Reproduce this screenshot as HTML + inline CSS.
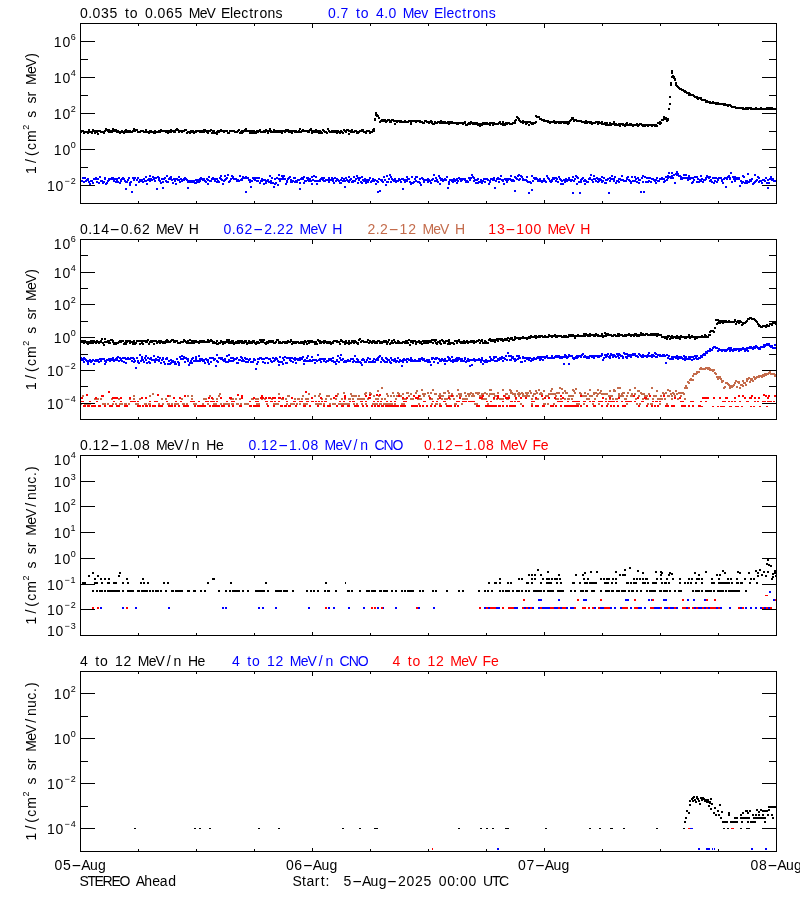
<!DOCTYPE html>
<html lang="en"><head><meta charset="utf-8"><title>STEREO Ahead particle fluxes</title>
<style>html,body{margin:0;padding:0;background:#fff;overflow:hidden}svg{display:block;will-change:transform}text{font-family:"Liberation Sans", sans-serif;font-size:14px;white-space:pre}</style></head><body>
<svg width="800" height="900" viewBox="0 0 800 900">
<rect width="800" height="900" fill="#fff"/>
<g shape-rendering="crispEdges">
<path fill="#000" d="M80 130h2v2h-2zM80 131h2v2h-2zM81 130h2v2h-2zM82 130h2v2h-2zM83 132h2v2h-2zM83 132h2v2h-2zM84 131h2v2h-2zM85 131h2v2h-2zM86 131h2v2h-2zM87 132h2v2h-2zM87 131h2v2h-2zM88 129h2v2h-2zM89 131h2v2h-2zM90 131h2v2h-2zM91 132h2v2h-2zM91 131h2v2h-2zM92 129h2v2h-2zM93 130h2v2h-2zM94 132h2v2h-2zM95 130h2v2h-2zM96 130h2v2h-2zM96 131h2v2h-2zM97 133h2v2h-2zM98 130h2v2h-2zM99 130h2v2h-2zM100 131h2v2h-2zM100 131h2v2h-2zM101 131h2v2h-2zM102 131h2v2h-2zM103 132h2v2h-2zM104 130h2v2h-2zM104 130h2v2h-2zM105 128h2v2h-2zM106 129h2v2h-2zM107 130h2v2h-2zM108 131h2v2h-2zM108 129h2v2h-2zM109 131h2v2h-2zM110 130h2v2h-2zM111 131h2v2h-2zM112 128h2v2h-2zM112 130h2v2h-2zM113 129h2v2h-2zM114 130h2v2h-2zM115 129h2v2h-2zM116 131h2v2h-2zM116 131h2v2h-2zM117 130h2v2h-2zM118 131h2v2h-2zM119 132h2v2h-2zM120 131h2v2h-2zM120 131h2v2h-2zM121 130h2v2h-2zM122 131h2v2h-2zM123 132h2v2h-2zM124 130h2v2h-2zM125 129h2v2h-2zM125 131h2v2h-2zM126 131h2v2h-2zM127 130h2v2h-2zM128 131h2v2h-2zM129 130h2v2h-2zM129 131h2v2h-2zM130 131h2v2h-2zM131 131h2v2h-2zM132 130h2v2h-2zM133 130h2v2h-2zM133 128h2v2h-2zM134 130h2v2h-2zM135 129h2v2h-2zM136 129h2v2h-2zM137 131h2v2h-2zM137 131h2v2h-2zM138 131h2v2h-2zM139 131h2v2h-2zM140 130h2v2h-2zM141 130h2v2h-2zM141 130h2v2h-2zM142 130h2v2h-2zM143 131h2v2h-2zM144 131h2v2h-2zM145 129h2v2h-2zM145 131h2v2h-2zM146 131h2v2h-2zM147 131h2v2h-2zM148 132h2v2h-2zM149 130h2v2h-2zM149 131h2v2h-2zM150 130h2v2h-2zM151 131h2v2h-2zM152 131h2v2h-2zM153 132h2v2h-2zM154 130h2v2h-2zM154 132h2v2h-2zM155 131h2v2h-2zM156 131h2v2h-2zM157 131h2v2h-2zM158 130h2v2h-2zM158 131h2v2h-2zM159 131h2v2h-2zM160 129h2v2h-2zM161 130h2v2h-2zM162 130h2v2h-2zM162 130h2v2h-2zM163 130h2v2h-2zM164 130h2v2h-2zM165 131h2v2h-2zM166 131h2v2h-2zM166 130h2v2h-2zM167 132h2v2h-2zM168 130h2v2h-2zM169 131h2v2h-2zM170 131h2v2h-2zM170 129h2v2h-2zM171 130h2v2h-2zM172 130h2v2h-2zM173 131h2v2h-2zM174 130h2v2h-2zM174 131h2v2h-2zM175 129h2v2h-2zM176 128h2v2h-2zM177 129h2v2h-2zM178 131h2v2h-2zM178 131h2v2h-2zM179 130h2v2h-2zM180 130h2v2h-2zM181 131h2v2h-2zM182 130h2v2h-2zM183 130h2v2h-2zM183 130h2v2h-2zM184 129h2v2h-2zM185 129h2v2h-2zM186 132h2v2h-2zM187 131h2v2h-2zM187 131h2v2h-2zM188 131h2v2h-2zM189 132h2v2h-2zM190 130h2v2h-2zM191 130h2v2h-2zM191 131h2v2h-2zM192 130h2v2h-2zM193 132h2v2h-2zM194 131h2v2h-2zM195 130h2v2h-2zM195 131h2v2h-2zM196 130h2v2h-2zM197 130h2v2h-2zM198 130h2v2h-2zM199 131h2v2h-2zM199 131h2v2h-2zM200 130h2v2h-2zM201 131h2v2h-2zM202 130h2v2h-2zM203 129h2v2h-2zM203 131h2v2h-2zM204 129h2v2h-2zM205 130h2v2h-2zM206 131h2v2h-2zM207 132h2v2h-2zM207 130h2v2h-2zM208 130h2v2h-2zM209 130h2v2h-2zM210 129h2v2h-2zM211 132h2v2h-2zM212 130h2v2h-2zM212 132h2v2h-2zM213 130h2v2h-2zM214 132h2v2h-2zM215 132h2v2h-2zM216 131h2v2h-2zM216 133h2v2h-2zM217 130h2v2h-2zM218 131h2v2h-2zM219 130h2v2h-2zM220 129h2v2h-2zM220 130h2v2h-2zM221 130h2v2h-2zM222 130h2v2h-2zM223 131h2v2h-2zM224 130h2v2h-2zM224 130h2v2h-2zM225 130h2v2h-2zM226 130h2v2h-2zM227 132h2v2h-2zM228 132h2v2h-2zM228 132h2v2h-2zM229 130h2v2h-2zM230 130h2v2h-2zM231 130h2v2h-2zM232 130h2v2h-2zM232 130h2v2h-2zM233 130h2v2h-2zM234 131h2v2h-2zM235 131h2v2h-2zM236 131h2v2h-2zM236 131h2v2h-2zM237 130h2v2h-2zM238 129h2v2h-2zM239 132h2v2h-2zM240 131h2v2h-2zM241 132h2v2h-2zM241 130h2v2h-2zM242 131h2v2h-2zM243 130h2v2h-2zM244 129h2v2h-2zM245 130h2v2h-2zM245 128h2v2h-2zM246 130h2v2h-2zM247 130h2v2h-2zM248 130h2v2h-2zM249 132h2v2h-2zM249 131h2v2h-2zM250 130h2v2h-2zM251 132h2v2h-2zM252 130h2v2h-2zM253 132h2v2h-2zM253 130h2v2h-2zM254 131h2v2h-2zM255 132h2v2h-2zM256 130h2v2h-2zM257 130h2v2h-2zM257 131h2v2h-2zM258 130h2v2h-2zM259 129h2v2h-2zM260 131h2v2h-2zM261 131h2v2h-2zM261 131h2v2h-2zM262 131h2v2h-2zM263 130h2v2h-2zM264 131h2v2h-2zM265 130h2v2h-2zM265 129h2v2h-2zM266 130h2v2h-2zM267 132h2v2h-2zM268 130h2v2h-2zM269 128h2v2h-2zM270 130h2v2h-2zM270 131h2v2h-2zM271 131h2v2h-2zM272 131h2v2h-2zM273 129h2v2h-2zM274 130h2v2h-2zM274 131h2v2h-2zM275 130h2v2h-2zM276 131h2v2h-2zM277 130h2v2h-2zM278 131h2v2h-2zM278 130h2v2h-2zM279 131h2v2h-2zM280 130h2v2h-2zM281 132h2v2h-2zM282 130h2v2h-2zM282 130h2v2h-2zM283 130h2v2h-2zM284 131h2v2h-2zM285 129h2v2h-2zM286 130h2v2h-2zM286 130h2v2h-2zM287 129h2v2h-2zM288 131h2v2h-2zM289 130h2v2h-2zM290 131h2v2h-2zM290 130h2v2h-2zM291 132h2v2h-2zM292 130h2v2h-2zM293 130h2v2h-2zM294 130h2v2h-2zM294 131h2v2h-2zM295 130h2v2h-2zM296 131h2v2h-2zM297 131h2v2h-2zM298 130h2v2h-2zM299 128h2v2h-2zM299 131h2v2h-2zM300 131h2v2h-2zM301 130h2v2h-2zM302 129h2v2h-2zM303 130h2v2h-2zM303 130h2v2h-2zM304 130h2v2h-2zM305 130h2v2h-2zM306 130h2v2h-2zM307 131h2v2h-2zM307 130h2v2h-2zM308 131h2v2h-2zM309 129h2v2h-2zM310 128h2v2h-2zM311 132h2v2h-2zM311 130h2v2h-2zM312 131h2v2h-2zM313 130h2v2h-2zM314 131h2v2h-2zM315 129h2v2h-2zM315 131h2v2h-2zM316 131h2v2h-2zM317 130h2v2h-2zM318 132h2v2h-2zM319 132h2v2h-2zM319 130h2v2h-2zM320 131h2v2h-2zM321 132h2v2h-2zM322 129h2v2h-2zM323 130h2v2h-2zM323 130h2v2h-2zM324 131h2v2h-2zM325 131h2v2h-2zM326 132h2v2h-2zM327 128h2v2h-2zM328 130h2v2h-2zM328 130h2v2h-2zM329 131h2v2h-2zM330 131h2v2h-2zM331 130h2v2h-2zM332 131h2v2h-2zM332 131h2v2h-2zM333 130h2v2h-2zM334 131h2v2h-2zM335 130h2v2h-2zM336 132h2v2h-2zM336 132h2v2h-2zM337 130h2v2h-2zM338 131h2v2h-2zM339 132h2v2h-2zM340 130h2v2h-2zM340 130h2v2h-2zM341 131h2v2h-2zM342 132h2v2h-2zM343 129h2v2h-2zM344 130h2v2h-2zM344 130h2v2h-2zM345 131h2v2h-2zM346 129h2v2h-2zM347 129h2v2h-2zM348 133h2v2h-2zM348 130h2v2h-2zM349 130h2v2h-2zM350 131h2v2h-2zM351 129h2v2h-2zM352 131h2v2h-2zM352 131h2v2h-2zM353 131h2v2h-2zM354 130h2v2h-2zM355 130h2v2h-2zM356 132h2v2h-2zM357 131h2v2h-2zM357 132h2v2h-2zM358 131h2v2h-2zM359 130h2v2h-2zM360 130h2v2h-2zM361 129h2v2h-2zM361 130h2v2h-2zM362 129h2v2h-2zM363 131h2v2h-2zM364 131h2v2h-2zM365 132h2v2h-2zM365 131h2v2h-2zM366 130h2v2h-2zM367 130h2v2h-2zM368 130h2v2h-2zM369 132h2v2h-2zM369 131h2v2h-2zM370 131h2v2h-2zM371 131h2v2h-2zM372 129h2v2h-2zM373 130h2v2h-2zM373 128h2v2h-2zM374 118h2v2h-2zM375 114h2v2h-2zM376 114h2v2h-2zM377 115h2v2h-2zM377 115h2v2h-2zM378 117h2v2h-2zM379 121h2v2h-2zM380 120h2v2h-2zM381 120h2v2h-2zM381 119h2v2h-2zM382 119h2v2h-2zM383 120h2v2h-2zM384 119h2v2h-2zM385 121h2v2h-2zM386 120h2v2h-2zM386 120h2v2h-2zM387 119h2v2h-2zM388 119h2v2h-2zM389 121h2v2h-2zM390 120h2v2h-2zM390 121h2v2h-2zM391 119h2v2h-2zM392 119h2v2h-2zM393 120h2v2h-2zM394 120h2v2h-2zM394 123h2v2h-2zM395 120h2v2h-2zM396 121h2v2h-2zM397 120h2v2h-2zM398 120h2v2h-2zM398 120h2v2h-2zM399 121h2v2h-2zM400 120h2v2h-2zM401 121h2v2h-2zM402 121h2v2h-2zM402 121h2v2h-2zM403 121h2v2h-2zM404 120h2v2h-2zM405 121h2v2h-2zM406 121h2v2h-2zM406 121h2v2h-2zM407 121h2v2h-2zM408 120h2v2h-2zM409 120h2v2h-2zM410 123h2v2h-2zM410 121h2v2h-2zM411 120h2v2h-2zM412 120h2v2h-2zM413 120h2v2h-2zM414 120h2v2h-2zM415 120h2v2h-2zM415 121h2v2h-2zM416 120h2v2h-2zM417 120h2v2h-2zM418 120h2v2h-2zM419 120h2v2h-2zM419 121h2v2h-2zM420 121h2v2h-2zM421 121h2v2h-2zM422 122h2v2h-2zM423 122h2v2h-2zM423 122h2v2h-2zM424 120h2v2h-2zM425 120h2v2h-2zM426 121h2v2h-2zM427 121h2v2h-2zM427 121h2v2h-2zM428 122h2v2h-2zM429 121h2v2h-2zM430 120h2v2h-2zM431 121h2v2h-2zM431 122h2v2h-2zM432 123h2v2h-2zM433 123h2v2h-2zM434 121h2v2h-2zM435 122h2v2h-2zM435 122h2v2h-2zM436 122h2v2h-2zM437 121h2v2h-2zM438 121h2v2h-2zM439 122h2v2h-2zM439 122h2v2h-2zM440 120h2v2h-2zM441 122h2v2h-2zM442 121h2v2h-2zM443 122h2v2h-2zM444 122h2v2h-2zM444 121h2v2h-2zM445 122h2v2h-2zM446 122h2v2h-2zM447 121h2v2h-2zM448 123h2v2h-2zM448 121h2v2h-2zM449 121h2v2h-2zM450 122h2v2h-2zM451 121h2v2h-2zM452 122h2v2h-2zM452 122h2v2h-2zM453 122h2v2h-2zM454 122h2v2h-2zM455 122h2v2h-2zM456 122h2v2h-2zM456 123h2v2h-2zM457 123h2v2h-2zM458 122h2v2h-2zM459 122h2v2h-2zM460 122h2v2h-2zM460 122h2v2h-2zM461 122h2v2h-2zM462 123h2v2h-2zM463 122h2v2h-2zM464 122h2v2h-2zM464 121h2v2h-2zM465 124h2v2h-2zM466 124h2v2h-2zM467 123h2v2h-2zM468 122h2v2h-2zM468 123h2v2h-2zM469 123h2v2h-2zM470 121h2v2h-2zM471 122h2v2h-2zM472 123h2v2h-2zM473 123h2v2h-2zM473 122h2v2h-2zM474 122h2v2h-2zM475 123h2v2h-2zM476 122h2v2h-2zM477 124h2v2h-2zM477 123h2v2h-2zM478 123h2v2h-2zM479 125h2v2h-2zM480 123h2v2h-2zM481 124h2v2h-2zM481 124h2v2h-2zM482 122h2v2h-2zM483 123h2v2h-2zM484 122h2v2h-2zM485 123h2v2h-2zM485 123h2v2h-2zM486 122h2v2h-2zM487 123h2v2h-2zM488 123h2v2h-2zM489 124h2v2h-2zM489 122h2v2h-2zM490 122h2v2h-2zM491 122h2v2h-2zM492 124h2v2h-2zM493 123h2v2h-2zM493 122h2v2h-2zM494 123h2v2h-2zM495 123h2v2h-2zM496 123h2v2h-2zM497 123h2v2h-2zM497 123h2v2h-2zM498 122h2v2h-2zM499 121h2v2h-2zM500 123h2v2h-2zM501 123h2v2h-2zM502 124h2v2h-2zM502 121h2v2h-2zM503 123h2v2h-2zM504 124h2v2h-2zM505 122h2v2h-2zM506 122h2v2h-2zM506 123h2v2h-2zM507 122h2v2h-2zM508 122h2v2h-2zM509 123h2v2h-2zM510 123h2v2h-2zM510 123h2v2h-2zM511 123h2v2h-2zM512 122h2v2h-2zM513 122h2v2h-2zM514 122h2v2h-2zM514 120h2v2h-2zM515 119h2v2h-2zM516 116h2v2h-2zM517 117h2v2h-2zM518 118h2v2h-2zM518 119h2v2h-2zM519 120h2v2h-2zM520 121h2v2h-2zM521 121h2v2h-2zM522 120h2v2h-2zM522 122h2v2h-2zM523 121h2v2h-2zM524 121h2v2h-2zM525 123h2v2h-2zM526 121h2v2h-2zM526 122h2v2h-2zM527 121h2v2h-2zM528 124h2v2h-2zM529 121h2v2h-2zM530 122h2v2h-2zM531 122h2v2h-2zM531 123h2v2h-2zM532 123h2v2h-2zM533 122h2v2h-2zM534 122h2v2h-2zM535 121h2v2h-2zM535 115h2v2h-2zM536 116h2v2h-2zM537 116h2v2h-2zM538 116h2v2h-2zM539 118h2v2h-2zM539 118h2v2h-2zM540 118h2v2h-2zM541 119h2v2h-2zM542 119h2v2h-2zM543 120h2v2h-2zM543 119h2v2h-2zM544 120h2v2h-2zM545 120h2v2h-2zM546 120h2v2h-2zM547 120h2v2h-2zM547 121h2v2h-2zM548 121h2v2h-2zM549 122h2v2h-2zM550 121h2v2h-2zM551 121h2v2h-2zM551 121h2v2h-2zM552 121h2v2h-2zM553 120h2v2h-2zM554 122h2v2h-2zM555 122h2v2h-2zM555 121h2v2h-2zM556 121h2v2h-2zM557 121h2v2h-2zM558 122h2v2h-2zM559 121h2v2h-2zM560 122h2v2h-2zM560 121h2v2h-2zM561 121h2v2h-2zM562 121h2v2h-2zM563 122h2v2h-2zM564 121h2v2h-2zM564 121h2v2h-2zM565 122h2v2h-2zM566 121h2v2h-2zM567 123h2v2h-2zM568 122h2v2h-2zM568 121h2v2h-2zM569 120h2v2h-2zM570 119h2v2h-2zM571 117h2v2h-2zM572 117h2v2h-2zM572 118h2v2h-2zM573 120h2v2h-2zM574 119h2v2h-2zM575 119h2v2h-2zM576 120h2v2h-2zM576 120h2v2h-2zM577 120h2v2h-2zM578 120h2v2h-2zM579 120h2v2h-2zM580 120h2v2h-2zM580 120h2v2h-2zM581 121h2v2h-2zM582 121h2v2h-2zM583 121h2v2h-2zM584 122h2v2h-2zM584 121h2v2h-2zM585 120h2v2h-2zM586 122h2v2h-2zM587 121h2v2h-2zM588 121h2v2h-2zM589 121h2v2h-2zM589 122h2v2h-2zM590 121h2v2h-2zM591 123h2v2h-2zM592 122h2v2h-2zM593 122h2v2h-2zM593 122h2v2h-2zM594 122h2v2h-2zM595 121h2v2h-2zM596 121h2v2h-2zM597 123h2v2h-2zM597 122h2v2h-2zM598 121h2v2h-2zM599 122h2v2h-2zM600 122h2v2h-2zM601 123h2v2h-2zM601 121h2v2h-2zM602 123h2v2h-2zM603 123h2v2h-2zM604 122h2v2h-2zM605 123h2v2h-2zM605 124h2v2h-2zM606 122h2v2h-2zM607 124h2v2h-2zM608 124h2v2h-2zM609 122h2v2h-2zM609 123h2v2h-2zM610 124h2v2h-2zM611 123h2v2h-2zM612 123h2v2h-2zM613 121h2v2h-2zM613 123h2v2h-2zM614 124h2v2h-2zM615 123h2v2h-2zM616 124h2v2h-2zM617 124h2v2h-2zM618 124h2v2h-2zM618 123h2v2h-2zM619 125h2v2h-2zM620 123h2v2h-2zM621 123h2v2h-2zM622 123h2v2h-2zM622 124h2v2h-2zM623 124h2v2h-2zM624 125h2v2h-2zM625 123h2v2h-2zM626 122h2v2h-2zM626 124h2v2h-2zM627 124h2v2h-2zM628 124h2v2h-2zM629 123h2v2h-2zM630 124h2v2h-2zM630 123h2v2h-2zM631 124h2v2h-2zM632 125h2v2h-2zM633 124h2v2h-2zM634 124h2v2h-2zM634 124h2v2h-2zM635 124h2v2h-2zM636 123h2v2h-2zM637 125h2v2h-2zM638 124h2v2h-2zM638 124h2v2h-2zM639 123h2v2h-2zM640 123h2v2h-2zM641 124h2v2h-2zM642 125h2v2h-2zM642 124h2v2h-2zM643 124h2v2h-2zM644 125h2v2h-2zM645 124h2v2h-2zM646 124h2v2h-2zM647 125h2v2h-2zM647 125h2v2h-2zM648 124h2v2h-2zM649 124h2v2h-2zM650 124h2v2h-2zM651 124h2v2h-2zM651 125h2v2h-2zM652 124h2v2h-2zM653 124h2v2h-2zM654 125h2v2h-2zM655 125h2v2h-2zM655 124h2v2h-2zM656 125h2v2h-2zM657 122h2v2h-2zM658 122h2v2h-2zM659 123h2v2h-2zM659 121h2v2h-2zM660 122h2v2h-2zM661 119h2v2h-2zM662 119h2v2h-2zM663 118h2v2h-2zM663 116h2v2h-2zM664 118h2v2h-2zM665 117h2v2h-2zM666 119h2v2h-2zM667 118h2v2h-2zM667 119h2v2h-2zM668 108h2v2h-2zM669 96h2v2h-2zM670 84h2v2h-2zM671 76h2v2h-2zM671 70h2v2h-2zM672 75h2v2h-2zM673 77h2v2h-2zM674 79h2v2h-2zM675 82h2v2h-2zM676 85h2v2h-2zM676 85h2v2h-2zM677 86h2v2h-2zM678 87h2v2h-2zM679 88h2v2h-2zM680 88h2v2h-2zM680 88h2v2h-2zM681 89h2v2h-2zM682 89h2v2h-2zM683 90h2v2h-2zM684 90h2v2h-2zM684 91h2v2h-2zM685 91h2v2h-2zM686 92h2v2h-2zM687 92h2v2h-2zM688 92h2v2h-2zM688 94h2v2h-2zM689 93h2v2h-2zM690 94h2v2h-2zM691 94h2v2h-2zM692 94h2v2h-2zM692 94h2v2h-2zM693 95h2v2h-2zM694 96h2v2h-2zM695 96h2v2h-2zM696 96h2v2h-2zM696 97h2v2h-2zM697 98h2v2h-2zM698 97h2v2h-2zM699 97h2v2h-2zM700 97h2v2h-2zM700 98h2v2h-2zM701 99h2v2h-2zM702 99h2v2h-2zM703 99h2v2h-2zM704 99h2v2h-2zM705 100h2v2h-2zM705 101h2v2h-2zM706 100h2v2h-2zM707 101h2v2h-2zM708 101h2v2h-2zM709 102h2v2h-2zM709 101h2v2h-2zM710 102h2v2h-2zM711 102h2v2h-2zM712 101h2v2h-2zM713 102h2v2h-2zM713 102h2v2h-2zM714 102h2v2h-2zM715 103h2v2h-2zM716 102h2v2h-2zM717 102h2v2h-2zM717 103h2v2h-2zM718 103h2v2h-2zM719 103h2v2h-2zM720 103h2v2h-2zM721 103h2v2h-2zM721 103h2v2h-2zM722 103h2v2h-2zM723 104h2v2h-2zM724 103h2v2h-2zM725 104h2v2h-2zM725 104h2v2h-2zM726 104h2v2h-2zM727 105h2v2h-2zM728 104h2v2h-2zM729 104h2v2h-2zM729 104h2v2h-2zM730 105h2v2h-2zM731 106h2v2h-2zM732 106h2v2h-2zM733 106h2v2h-2zM734 106h2v2h-2zM734 106h2v2h-2zM735 107h2v2h-2zM736 107h2v2h-2zM737 107h2v2h-2zM738 107h2v2h-2zM738 107h2v2h-2zM739 107h2v2h-2zM740 107h2v2h-2zM741 107h2v2h-2zM742 107h2v2h-2zM742 108h2v2h-2zM743 108h2v2h-2zM744 108h2v2h-2zM745 107h2v2h-2zM746 107h2v2h-2zM746 108h2v2h-2zM747 108h2v2h-2zM748 107h2v2h-2zM749 107h2v2h-2zM750 107h2v2h-2zM750 108h2v2h-2zM751 108h2v2h-2zM752 108h2v2h-2zM753 108h2v2h-2zM754 108h2v2h-2zM754 108h2v2h-2zM755 107h2v2h-2zM756 108h2v2h-2zM757 108h2v2h-2zM758 108h2v2h-2zM758 108h2v2h-2zM759 108h2v2h-2zM760 107h2v2h-2zM761 108h2v2h-2zM762 108h2v2h-2zM763 108h2v2h-2zM763 108h2v2h-2zM764 108h2v2h-2zM765 108h2v2h-2zM766 107h2v2h-2zM767 107h2v2h-2zM767 108h2v2h-2zM768 108h2v2h-2zM769 107h2v2h-2zM770 108h2v2h-2zM771 107h2v2h-2zM771 108h2v2h-2zM772 108h2v2h-2zM773 108h2v2h-2zM774 108h2v2h-2zM775 108h2v2h-2zM375 112h2v2h-2zM376 115h2v2h-2zM374 119h2v2h-2zM669 103h2v2h-2zM670 82h2v2h-2zM671 70h2v2h-2zM671 72h2v2h-2zM673 76h2v2h-2zM674 78h2v2h-2zM667 119h2v2h-2zM666 120h2v2h-2zM675 84h2v2h-2z"/>
<path fill="#0000ff" d="M80 180h2v2h-2zM80 180h2v2h-2zM81 180h2v2h-2zM82 177h2v2h-2zM83 181h2v2h-2zM83 177h2v2h-2zM84 177h2v2h-2zM85 180h2v2h-2zM86 179h2v2h-2zM87 179h2v2h-2zM87 178h2v2h-2zM88 181h2v2h-2zM89 183h2v2h-2zM90 180h2v2h-2zM91 180h2v2h-2zM91 180h2v2h-2zM92 182h2v2h-2zM93 178h2v2h-2zM94 178h2v2h-2zM95 177h2v2h-2zM96 178h2v2h-2zM96 181h2v2h-2zM97 178h2v2h-2zM98 182h2v2h-2zM99 176h2v2h-2zM100 180h2v2h-2zM100 180h2v2h-2zM101 180h2v2h-2zM102 182h2v2h-2zM103 181h2v2h-2zM104 178h2v2h-2zM104 177h2v2h-2zM105 183h2v2h-2zM106 182h2v2h-2zM107 180h2v2h-2zM108 179h2v2h-2zM108 178h2v2h-2zM109 178h2v2h-2zM110 178h2v2h-2zM111 177h2v2h-2zM112 177h2v2h-2zM112 178h2v2h-2zM113 180h2v2h-2zM114 178h2v2h-2zM115 181h2v2h-2zM116 180h2v2h-2zM116 178h2v2h-2zM117 181h2v2h-2zM118 177h2v2h-2zM119 182h2v2h-2zM120 179h2v2h-2zM120 180h2v2h-2zM121 178h2v2h-2zM122 177h2v2h-2zM123 178h2v2h-2zM124 180h2v2h-2zM125 188h2v2h-2zM125 181h2v2h-2zM126 181h2v2h-2zM127 179h2v2h-2zM128 177h2v2h-2zM129 184h2v2h-2zM129 182h2v2h-2zM130 181h2v2h-2zM131 191h2v2h-2zM132 177h2v2h-2zM133 177h2v2h-2zM133 179h2v2h-2zM134 177h2v2h-2zM135 184h2v2h-2zM136 179h2v2h-2zM137 177h2v2h-2zM137 177h2v2h-2zM138 181h2v2h-2zM139 179h2v2h-2zM140 180h2v2h-2zM141 180h2v2h-2zM141 179h2v2h-2zM142 181h2v2h-2zM143 178h2v2h-2zM144 180h2v2h-2zM145 176h2v2h-2zM145 180h2v2h-2zM146 183h2v2h-2zM147 179h2v2h-2zM148 178h2v2h-2zM149 180h2v2h-2zM149 175h2v2h-2zM150 178h2v2h-2zM151 179h2v2h-2zM152 176h2v2h-2zM153 178h2v2h-2zM154 177h2v2h-2zM154 180h2v2h-2zM155 177h2v2h-2zM156 188h2v2h-2zM157 176h2v2h-2zM158 177h2v2h-2zM158 179h2v2h-2zM159 180h2v2h-2zM160 182h2v2h-2zM161 178h2v2h-2zM162 181h2v2h-2zM162 187h2v2h-2zM163 178h2v2h-2zM164 177h2v2h-2zM165 180h2v2h-2zM166 181h2v2h-2zM166 175h2v2h-2zM167 181h2v2h-2zM168 178h2v2h-2zM169 177h2v2h-2zM170 176h2v2h-2zM170 178h2v2h-2zM171 179h2v2h-2zM172 182h2v2h-2zM173 178h2v2h-2zM174 180h2v2h-2zM174 178h2v2h-2zM175 183h2v2h-2zM176 178h2v2h-2zM177 179h2v2h-2zM178 176h2v2h-2zM178 179h2v2h-2zM179 181h2v2h-2zM180 178h2v2h-2zM181 180h2v2h-2zM182 179h2v2h-2zM183 178h2v2h-2zM183 179h2v2h-2zM184 177h2v2h-2zM185 178h2v2h-2zM186 179h2v2h-2zM187 181h2v2h-2zM187 187h2v2h-2zM188 180h2v2h-2zM189 181h2v2h-2zM190 180h2v2h-2zM191 180h2v2h-2zM191 181h2v2h-2zM192 181h2v2h-2zM193 180h2v2h-2zM194 182h2v2h-2zM195 182h2v2h-2zM195 179h2v2h-2zM196 181h2v2h-2zM197 179h2v2h-2zM198 181h2v2h-2zM199 178h2v2h-2zM199 180h2v2h-2zM200 177h2v2h-2zM201 178h2v2h-2zM202 179h2v2h-2zM203 178h2v2h-2zM203 179h2v2h-2zM204 180h2v2h-2zM205 181h2v2h-2zM206 178h2v2h-2zM207 183h2v2h-2zM207 179h2v2h-2zM208 176h2v2h-2zM209 180h2v2h-2zM210 180h2v2h-2zM211 178h2v2h-2zM212 177h2v2h-2zM212 178h2v2h-2zM213 178h2v2h-2zM214 180h2v2h-2zM215 178h2v2h-2zM216 181h2v2h-2zM216 178h2v2h-2zM217 180h2v2h-2zM218 181h2v2h-2zM219 177h2v2h-2zM220 178h2v2h-2zM220 175h2v2h-2zM221 179h2v2h-2zM222 183h2v2h-2zM223 180h2v2h-2zM224 175h2v2h-2zM224 179h2v2h-2zM225 178h2v2h-2zM226 177h2v2h-2zM227 174h2v2h-2zM228 181h2v2h-2zM228 181h2v2h-2zM229 180h2v2h-2zM230 178h2v2h-2zM231 175h2v2h-2zM232 176h2v2h-2zM232 177h2v2h-2zM233 178h2v2h-2zM234 178h2v2h-2zM235 178h2v2h-2zM236 180h2v2h-2zM236 180h2v2h-2zM237 179h2v2h-2zM238 180h2v2h-2zM239 175h2v2h-2zM240 179h2v2h-2zM241 179h2v2h-2zM241 178h2v2h-2zM242 176h2v2h-2zM243 177h2v2h-2zM244 177h2v2h-2zM245 176h2v2h-2zM245 191h2v2h-2zM246 177h2v2h-2zM247 177h2v2h-2zM248 179h2v2h-2zM249 179h2v2h-2zM249 181h2v2h-2zM250 186h2v2h-2zM251 180h2v2h-2zM252 177h2v2h-2zM253 178h2v2h-2zM253 177h2v2h-2zM254 179h2v2h-2zM255 177h2v2h-2zM256 180h2v2h-2zM257 180h2v2h-2zM257 177h2v2h-2zM258 177h2v2h-2zM259 182h2v2h-2zM260 180h2v2h-2zM261 180h2v2h-2zM261 178h2v2h-2zM262 179h2v2h-2zM263 183h2v2h-2zM264 179h2v2h-2zM265 180h2v2h-2zM265 182h2v2h-2zM266 180h2v2h-2zM267 179h2v2h-2zM268 181h2v2h-2zM269 175h2v2h-2zM270 182h2v2h-2zM270 180h2v2h-2zM271 177h2v2h-2zM272 182h2v2h-2zM273 186h2v2h-2zM274 183h2v2h-2zM274 178h2v2h-2zM275 182h2v2h-2zM276 177h2v2h-2zM277 184h2v2h-2zM278 178h2v2h-2zM278 174h2v2h-2zM279 180h2v2h-2zM280 178h2v2h-2zM281 175h2v2h-2zM282 177h2v2h-2zM282 178h2v2h-2zM283 175h2v2h-2zM284 178h2v2h-2zM285 183h2v2h-2zM286 181h2v2h-2zM286 180h2v2h-2zM287 178h2v2h-2zM288 177h2v2h-2zM289 176h2v2h-2zM290 181h2v2h-2zM290 179h2v2h-2zM291 181h2v2h-2zM292 180h2v2h-2zM293 177h2v2h-2zM294 177h2v2h-2zM294 181h2v2h-2zM295 180h2v2h-2zM296 181h2v2h-2zM297 179h2v2h-2zM298 179h2v2h-2zM299 182h2v2h-2zM299 188h2v2h-2zM300 178h2v2h-2zM301 177h2v2h-2zM302 178h2v2h-2zM303 176h2v2h-2zM303 182h2v2h-2zM304 180h2v2h-2zM305 180h2v2h-2zM306 177h2v2h-2zM307 179h2v2h-2zM307 177h2v2h-2zM308 180h2v2h-2zM309 178h2v2h-2zM310 180h2v2h-2zM311 183h2v2h-2zM311 176h2v2h-2zM312 179h2v2h-2zM313 175h2v2h-2zM314 180h2v2h-2zM315 180h2v2h-2zM315 176h2v2h-2zM316 183h2v2h-2zM317 180h2v2h-2zM318 180h2v2h-2zM319 180h2v2h-2zM319 179h2v2h-2zM320 178h2v2h-2zM321 177h2v2h-2zM322 179h2v2h-2zM323 177h2v2h-2zM323 180h2v2h-2zM324 180h2v2h-2zM325 179h2v2h-2zM326 179h2v2h-2zM327 179h2v2h-2zM328 181h2v2h-2zM328 177h2v2h-2zM329 179h2v2h-2zM330 179h2v2h-2zM331 177h2v2h-2zM332 180h2v2h-2zM332 178h2v2h-2zM333 182h2v2h-2zM334 177h2v2h-2zM335 180h2v2h-2zM336 178h2v2h-2zM336 178h2v2h-2zM337 179h2v2h-2zM338 180h2v2h-2zM339 182h2v2h-2zM340 179h2v2h-2zM340 182h2v2h-2zM341 177h2v2h-2zM342 180h2v2h-2zM343 178h2v2h-2zM344 186h2v2h-2zM344 180h2v2h-2zM345 177h2v2h-2zM346 179h2v2h-2zM347 180h2v2h-2zM348 181h2v2h-2zM348 176h2v2h-2zM349 179h2v2h-2zM350 178h2v2h-2zM351 181h2v2h-2zM352 180h2v2h-2zM352 181h2v2h-2zM353 176h2v2h-2zM354 180h2v2h-2zM355 178h2v2h-2zM356 175h2v2h-2zM357 182h2v2h-2zM357 177h2v2h-2zM358 179h2v2h-2zM359 177h2v2h-2zM360 181h2v2h-2zM361 176h2v2h-2zM361 182h2v2h-2zM362 179h2v2h-2zM363 180h2v2h-2zM364 178h2v2h-2zM365 182h2v2h-2zM365 180h2v2h-2zM366 179h2v2h-2zM367 181h2v2h-2zM368 179h2v2h-2zM369 177h2v2h-2zM369 177h2v2h-2zM370 181h2v2h-2zM371 180h2v2h-2zM372 178h2v2h-2zM373 180h2v2h-2zM373 179h2v2h-2zM374 179h2v2h-2zM375 183h2v2h-2zM376 180h2v2h-2zM377 191h2v2h-2zM377 181h2v2h-2zM378 178h2v2h-2zM379 190h2v2h-2zM380 179h2v2h-2zM381 180h2v2h-2zM381 179h2v2h-2zM382 181h2v2h-2zM383 176h2v2h-2zM384 179h2v2h-2zM385 184h2v2h-2zM386 181h2v2h-2zM386 175h2v2h-2zM387 181h2v2h-2zM388 178h2v2h-2zM389 174h2v2h-2zM390 181h2v2h-2zM390 176h2v2h-2zM391 178h2v2h-2zM392 179h2v2h-2zM393 180h2v2h-2zM394 180h2v2h-2zM394 178h2v2h-2zM395 181h2v2h-2zM396 180h2v2h-2zM397 180h2v2h-2zM398 178h2v2h-2zM398 178h2v2h-2zM399 179h2v2h-2zM400 181h2v2h-2zM401 178h2v2h-2zM402 188h2v2h-2zM402 178h2v2h-2zM403 179h2v2h-2zM404 181h2v2h-2zM405 179h2v2h-2zM406 180h2v2h-2zM406 176h2v2h-2zM407 178h2v2h-2zM408 178h2v2h-2zM409 181h2v2h-2zM410 183h2v2h-2zM410 182h2v2h-2zM411 176h2v2h-2zM412 182h2v2h-2zM413 181h2v2h-2zM414 178h2v2h-2zM415 176h2v2h-2zM415 180h2v2h-2zM416 176h2v2h-2zM417 181h2v2h-2zM418 181h2v2h-2zM419 178h2v2h-2zM419 182h2v2h-2zM420 184h2v2h-2zM421 177h2v2h-2zM422 178h2v2h-2zM423 179h2v2h-2zM423 181h2v2h-2zM424 179h2v2h-2zM425 179h2v2h-2zM426 179h2v2h-2zM427 181h2v2h-2zM427 178h2v2h-2zM428 179h2v2h-2zM429 180h2v2h-2zM430 182h2v2h-2zM431 179h2v2h-2zM431 179h2v2h-2zM432 178h2v2h-2zM433 174h2v2h-2zM434 180h2v2h-2zM435 180h2v2h-2zM435 177h2v2h-2zM436 179h2v2h-2zM437 181h2v2h-2zM438 175h2v2h-2zM439 183h2v2h-2zM439 177h2v2h-2zM440 179h2v2h-2zM441 178h2v2h-2zM442 180h2v2h-2zM443 179h2v2h-2zM444 179h2v2h-2zM444 178h2v2h-2zM445 179h2v2h-2zM446 176h2v2h-2zM447 187h2v2h-2zM448 183h2v2h-2zM448 181h2v2h-2zM449 179h2v2h-2zM450 179h2v2h-2zM451 180h2v2h-2zM452 179h2v2h-2zM452 181h2v2h-2zM453 178h2v2h-2zM454 180h2v2h-2zM455 179h2v2h-2zM456 178h2v2h-2zM456 182h2v2h-2zM457 180h2v2h-2zM458 177h2v2h-2zM459 178h2v2h-2zM460 178h2v2h-2zM460 180h2v2h-2zM461 179h2v2h-2zM462 178h2v2h-2zM463 178h2v2h-2zM464 179h2v2h-2zM464 178h2v2h-2zM465 181h2v2h-2zM466 180h2v2h-2zM467 181h2v2h-2zM468 177h2v2h-2zM468 177h2v2h-2zM469 179h2v2h-2zM470 177h2v2h-2zM471 174h2v2h-2zM472 176h2v2h-2zM473 177h2v2h-2zM473 180h2v2h-2zM474 179h2v2h-2zM475 182h2v2h-2zM476 179h2v2h-2zM477 182h2v2h-2zM477 178h2v2h-2zM478 181h2v2h-2zM479 181h2v2h-2zM480 179h2v2h-2zM481 182h2v2h-2zM481 180h2v2h-2zM482 180h2v2h-2zM483 178h2v2h-2zM484 181h2v2h-2zM485 178h2v2h-2zM485 178h2v2h-2zM486 178h2v2h-2zM487 179h2v2h-2zM488 183h2v2h-2zM489 180h2v2h-2zM489 181h2v2h-2zM490 178h2v2h-2zM491 178h2v2h-2zM492 179h2v2h-2zM493 177h2v2h-2zM493 179h2v2h-2zM494 187h2v2h-2zM495 180h2v2h-2zM496 178h2v2h-2zM497 177h2v2h-2zM497 178h2v2h-2zM498 181h2v2h-2zM499 178h2v2h-2zM500 175h2v2h-2zM501 179h2v2h-2zM502 179h2v2h-2zM502 180h2v2h-2zM503 183h2v2h-2zM504 178h2v2h-2zM505 179h2v2h-2zM506 178h2v2h-2zM506 181h2v2h-2zM507 179h2v2h-2zM508 178h2v2h-2zM509 178h2v2h-2zM510 175h2v2h-2zM510 179h2v2h-2zM511 180h2v2h-2zM512 179h2v2h-2zM513 180h2v2h-2zM514 190h2v2h-2zM514 176h2v2h-2zM515 177h2v2h-2zM516 178h2v2h-2zM517 175h2v2h-2zM518 179h2v2h-2zM518 174h2v2h-2zM519 178h2v2h-2zM520 175h2v2h-2zM521 176h2v2h-2zM522 179h2v2h-2zM522 178h2v2h-2zM523 179h2v2h-2zM524 179h2v2h-2zM525 179h2v2h-2zM526 176h2v2h-2zM526 180h2v2h-2zM527 181h2v2h-2zM528 192h2v2h-2zM529 181h2v2h-2zM530 182h2v2h-2zM531 175h2v2h-2zM531 189h2v2h-2zM532 180h2v2h-2zM533 177h2v2h-2zM534 178h2v2h-2zM535 177h2v2h-2zM535 177h2v2h-2zM536 178h2v2h-2zM537 180h2v2h-2zM538 179h2v2h-2zM539 178h2v2h-2zM539 180h2v2h-2zM540 180h2v2h-2zM541 181h2v2h-2zM542 180h2v2h-2zM543 178h2v2h-2zM543 178h2v2h-2zM544 180h2v2h-2zM545 181h2v2h-2zM546 175h2v2h-2zM547 177h2v2h-2zM547 177h2v2h-2zM548 178h2v2h-2zM549 180h2v2h-2zM550 181h2v2h-2zM551 180h2v2h-2zM551 179h2v2h-2zM552 177h2v2h-2zM553 178h2v2h-2zM554 177h2v2h-2zM555 177h2v2h-2zM555 180h2v2h-2zM556 178h2v2h-2zM557 181h2v2h-2zM558 176h2v2h-2zM559 178h2v2h-2zM560 183h2v2h-2zM560 179h2v2h-2zM561 180h2v2h-2zM562 183h2v2h-2zM563 179h2v2h-2zM564 179h2v2h-2zM564 181h2v2h-2zM565 178h2v2h-2zM566 180h2v2h-2zM567 179h2v2h-2zM568 177h2v2h-2zM568 177h2v2h-2zM569 179h2v2h-2zM570 180h2v2h-2zM571 179h2v2h-2zM572 176h2v2h-2zM572 192h2v2h-2zM573 180h2v2h-2zM574 178h2v2h-2zM575 175h2v2h-2zM576 176h2v2h-2zM576 183h2v2h-2zM577 177h2v2h-2zM578 181h2v2h-2zM579 192h2v2h-2zM580 179h2v2h-2zM580 181h2v2h-2zM581 178h2v2h-2zM582 177h2v2h-2zM583 180h2v2h-2zM584 183h2v2h-2zM584 179h2v2h-2zM585 180h2v2h-2zM586 181h2v2h-2zM587 181h2v2h-2zM588 178h2v2h-2zM589 178h2v2h-2zM589 177h2v2h-2zM590 174h2v2h-2zM591 179h2v2h-2zM592 181h2v2h-2zM593 175h2v2h-2zM593 178h2v2h-2zM594 178h2v2h-2zM595 180h2v2h-2zM596 177h2v2h-2zM597 181h2v2h-2zM597 178h2v2h-2zM598 180h2v2h-2zM599 178h2v2h-2zM600 179h2v2h-2zM601 181h2v2h-2zM601 176h2v2h-2zM602 180h2v2h-2zM603 177h2v2h-2zM604 182h2v2h-2zM605 182h2v2h-2zM605 179h2v2h-2zM606 179h2v2h-2zM607 178h2v2h-2zM608 192h2v2h-2zM609 180h2v2h-2zM609 177h2v2h-2zM610 178h2v2h-2zM611 175h2v2h-2zM612 178h2v2h-2zM613 178h2v2h-2zM613 180h2v2h-2zM614 176h2v2h-2zM615 182h2v2h-2zM616 180h2v2h-2zM617 180h2v2h-2zM618 181h2v2h-2zM618 178h2v2h-2zM619 178h2v2h-2zM620 179h2v2h-2zM621 175h2v2h-2zM622 179h2v2h-2zM622 179h2v2h-2zM623 180h2v2h-2zM624 180h2v2h-2zM625 180h2v2h-2zM626 178h2v2h-2zM626 177h2v2h-2zM627 176h2v2h-2zM628 179h2v2h-2zM629 180h2v2h-2zM630 181h2v2h-2zM630 182h2v2h-2zM631 176h2v2h-2zM632 180h2v2h-2zM633 180h2v2h-2zM634 176h2v2h-2zM634 180h2v2h-2zM635 178h2v2h-2zM636 181h2v2h-2zM637 177h2v2h-2zM638 179h2v2h-2zM638 182h2v2h-2zM639 179h2v2h-2zM640 191h2v2h-2zM641 177h2v2h-2zM642 181h2v2h-2zM642 175h2v2h-2zM643 191h2v2h-2zM644 176h2v2h-2zM645 181h2v2h-2zM646 177h2v2h-2zM647 177h2v2h-2zM647 181h2v2h-2zM648 180h2v2h-2zM649 177h2v2h-2zM650 181h2v2h-2zM651 178h2v2h-2zM651 178h2v2h-2zM652 178h2v2h-2zM653 179h2v2h-2zM654 180h2v2h-2zM655 179h2v2h-2zM655 182h2v2h-2zM656 177h2v2h-2zM657 180h2v2h-2zM658 180h2v2h-2zM659 178h2v2h-2zM659 178h2v2h-2zM660 178h2v2h-2zM661 177h2v2h-2zM662 178h2v2h-2zM663 181h2v2h-2zM663 178h2v2h-2zM664 180h2v2h-2zM665 176h2v2h-2zM666 179h2v2h-2zM667 175h2v2h-2zM667 177h2v2h-2zM668 172h2v2h-2zM669 176h2v2h-2zM670 177h2v2h-2zM671 175h2v2h-2zM671 172h2v2h-2zM672 177h2v2h-2zM673 174h2v2h-2zM674 182h2v2h-2zM675 173h2v2h-2zM676 171h2v2h-2zM676 174h2v2h-2zM677 173h2v2h-2zM678 175h2v2h-2zM679 175h2v2h-2zM680 178h2v2h-2zM680 176h2v2h-2zM681 178h2v2h-2zM682 177h2v2h-2zM683 174h2v2h-2zM684 174h2v2h-2zM684 177h2v2h-2zM685 174h2v2h-2zM686 177h2v2h-2zM687 179h2v2h-2zM688 177h2v2h-2zM688 175h2v2h-2zM689 178h2v2h-2zM690 177h2v2h-2zM691 182h2v2h-2zM692 177h2v2h-2zM692 181h2v2h-2zM693 179h2v2h-2zM694 176h2v2h-2zM695 176h2v2h-2zM696 176h2v2h-2zM696 181h2v2h-2zM697 178h2v2h-2zM698 181h2v2h-2zM699 179h2v2h-2zM700 175h2v2h-2zM700 180h2v2h-2zM701 178h2v2h-2zM702 181h2v2h-2zM703 179h2v2h-2zM704 179h2v2h-2zM705 177h2v2h-2zM705 178h2v2h-2zM706 175h2v2h-2zM707 176h2v2h-2zM708 177h2v2h-2zM709 176h2v2h-2zM709 180h2v2h-2zM710 179h2v2h-2zM711 181h2v2h-2zM712 177h2v2h-2zM713 177h2v2h-2zM713 182h2v2h-2zM714 180h2v2h-2zM715 177h2v2h-2zM716 181h2v2h-2zM717 179h2v2h-2zM717 178h2v2h-2zM718 177h2v2h-2zM719 177h2v2h-2zM720 177h2v2h-2zM721 179h2v2h-2zM721 180h2v2h-2zM722 182h2v2h-2zM723 178h2v2h-2zM724 177h2v2h-2zM725 177h2v2h-2zM725 186h2v2h-2zM726 178h2v2h-2zM727 176h2v2h-2zM728 175h2v2h-2zM729 177h2v2h-2zM729 178h2v2h-2zM730 172h2v2h-2zM731 181h2v2h-2zM732 176h2v2h-2zM733 178h2v2h-2zM734 180h2v2h-2zM734 176h2v2h-2zM735 178h2v2h-2zM736 177h2v2h-2zM737 178h2v2h-2zM738 177h2v2h-2zM738 178h2v2h-2zM739 185h2v2h-2zM740 180h2v2h-2zM741 182h2v2h-2zM742 175h2v2h-2zM742 181h2v2h-2zM743 176h2v2h-2zM744 182h2v2h-2zM745 180h2v2h-2zM746 180h2v2h-2zM746 182h2v2h-2zM747 173h2v2h-2zM748 181h2v2h-2zM749 179h2v2h-2zM750 179h2v2h-2zM750 180h2v2h-2zM751 178h2v2h-2zM752 183h2v2h-2zM753 182h2v2h-2zM754 174h2v2h-2zM754 181h2v2h-2zM755 180h2v2h-2zM756 179h2v2h-2zM757 176h2v2h-2zM758 181h2v2h-2zM758 177h2v2h-2zM759 180h2v2h-2zM760 180h2v2h-2zM761 182h2v2h-2zM762 179h2v2h-2zM763 179h2v2h-2zM763 179h2v2h-2zM764 180h2v2h-2zM765 177h2v2h-2zM766 182h2v2h-2zM767 187h2v2h-2zM767 179h2v2h-2zM768 182h2v2h-2zM769 178h2v2h-2zM770 176h2v2h-2zM771 179h2v2h-2zM771 178h2v2h-2zM772 178h2v2h-2zM773 180h2v2h-2zM774 180h2v2h-2zM775 180h2v2h-2z"/>
<path fill="#000" d="M80 341h2v2h-2zM80 341h2v2h-2zM81 340h2v2h-2zM82 341h2v2h-2zM83 340h2v2h-2zM83 342h2v2h-2zM84 340h2v2h-2zM85 341h2v2h-2zM86 342h2v2h-2zM87 341h2v2h-2zM87 343h2v2h-2zM88 341h2v2h-2zM89 342h2v2h-2zM90 340h2v2h-2zM91 340h2v2h-2zM91 342h2v2h-2zM92 342h2v2h-2zM93 340h2v2h-2zM94 341h2v2h-2zM95 342h2v2h-2zM96 340h2v2h-2zM96 341h2v2h-2zM97 341h2v2h-2zM98 342h2v2h-2zM99 341h2v2h-2zM100 340h2v2h-2zM100 341h2v2h-2zM101 338h2v2h-2zM102 342h2v2h-2zM103 344h2v2h-2zM104 341h2v2h-2zM104 338h2v2h-2zM105 341h2v2h-2zM106 341h2v2h-2zM107 340h2v2h-2zM108 342h2v2h-2zM108 340h2v2h-2zM109 342h2v2h-2zM110 339h2v2h-2zM111 339h2v2h-2zM112 341h2v2h-2zM112 340h2v2h-2zM113 343h2v2h-2zM114 342h2v2h-2zM115 343h2v2h-2zM116 342h2v2h-2zM116 342h2v2h-2zM117 342h2v2h-2zM118 341h2v2h-2zM119 340h2v2h-2zM120 341h2v2h-2zM120 341h2v2h-2zM121 340h2v2h-2zM122 340h2v2h-2zM123 343h2v2h-2zM124 342h2v2h-2zM125 340h2v2h-2zM125 343h2v2h-2zM126 341h2v2h-2zM127 340h2v2h-2zM128 340h2v2h-2zM129 342h2v2h-2zM129 340h2v2h-2zM130 341h2v2h-2zM131 341h2v2h-2zM132 343h2v2h-2zM133 341h2v2h-2zM133 340h2v2h-2zM134 343h2v2h-2zM135 342h2v2h-2zM136 340h2v2h-2zM137 340h2v2h-2zM137 340h2v2h-2zM138 340h2v2h-2zM139 343h2v2h-2zM140 340h2v2h-2zM141 342h2v2h-2zM141 340h2v2h-2zM142 343h2v2h-2zM143 340h2v2h-2zM144 340h2v2h-2zM145 341h2v2h-2zM145 340h2v2h-2zM146 341h2v2h-2zM147 339h2v2h-2zM148 343h2v2h-2zM149 341h2v2h-2zM149 341h2v2h-2zM150 340h2v2h-2zM151 341h2v2h-2zM152 340h2v2h-2zM153 343h2v2h-2zM154 340h2v2h-2zM154 340h2v2h-2zM155 340h2v2h-2zM156 342h2v2h-2zM157 341h2v2h-2zM158 341h2v2h-2zM158 340h2v2h-2zM159 342h2v2h-2zM160 340h2v2h-2zM161 341h2v2h-2zM162 341h2v2h-2zM162 342h2v2h-2zM163 341h2v2h-2zM164 342h2v2h-2zM165 340h2v2h-2zM166 339h2v2h-2zM166 341h2v2h-2zM167 340h2v2h-2zM168 341h2v2h-2zM169 341h2v2h-2zM170 340h2v2h-2zM170 340h2v2h-2zM171 339h2v2h-2zM172 339h2v2h-2zM173 341h2v2h-2zM174 341h2v2h-2zM174 340h2v2h-2zM175 340h2v2h-2zM176 340h2v2h-2zM177 342h2v2h-2zM178 342h2v2h-2zM178 342h2v2h-2zM179 342h2v2h-2zM180 341h2v2h-2zM181 341h2v2h-2zM182 341h2v2h-2zM183 340h2v2h-2zM183 339h2v2h-2zM184 340h2v2h-2zM185 341h2v2h-2zM186 342h2v2h-2zM187 342h2v2h-2zM187 340h2v2h-2zM188 342h2v2h-2zM189 339h2v2h-2zM190 342h2v2h-2zM191 340h2v2h-2zM191 342h2v2h-2zM192 340h2v2h-2zM193 342h2v2h-2zM194 340h2v2h-2zM195 340h2v2h-2zM195 341h2v2h-2zM196 341h2v2h-2zM197 341h2v2h-2zM198 342h2v2h-2zM199 340h2v2h-2zM199 341h2v2h-2zM200 341h2v2h-2zM201 340h2v2h-2zM202 341h2v2h-2zM203 340h2v2h-2zM203 340h2v2h-2zM204 341h2v2h-2zM205 341h2v2h-2zM206 341h2v2h-2zM207 339h2v2h-2zM207 339h2v2h-2zM208 341h2v2h-2zM209 340h2v2h-2zM210 339h2v2h-2zM211 340h2v2h-2zM212 342h2v2h-2zM212 342h2v2h-2zM213 341h2v2h-2zM214 342h2v2h-2zM215 342h2v2h-2zM216 343h2v2h-2zM216 340h2v2h-2zM217 343h2v2h-2zM218 342h2v2h-2zM219 342h2v2h-2zM220 341h2v2h-2zM220 340h2v2h-2zM221 341h2v2h-2zM222 343h2v2h-2zM223 341h2v2h-2zM224 342h2v2h-2zM224 342h2v2h-2zM225 341h2v2h-2zM226 339h2v2h-2zM227 341h2v2h-2zM228 339h2v2h-2zM228 342h2v2h-2zM229 341h2v2h-2zM230 342h2v2h-2zM231 340h2v2h-2zM232 340h2v2h-2zM232 342h2v2h-2zM233 343h2v2h-2zM234 342h2v2h-2zM235 341h2v2h-2zM236 342h2v2h-2zM236 342h2v2h-2zM237 340h2v2h-2zM238 342h2v2h-2zM239 340h2v2h-2zM240 341h2v2h-2zM241 342h2v2h-2zM241 340h2v2h-2zM242 341h2v2h-2zM243 342h2v2h-2zM244 340h2v2h-2zM245 340h2v2h-2zM245 341h2v2h-2zM246 343h2v2h-2zM247 342h2v2h-2zM248 340h2v2h-2zM249 342h2v2h-2zM249 341h2v2h-2zM250 341h2v2h-2zM251 342h2v2h-2zM252 340h2v2h-2zM253 341h2v2h-2zM253 340h2v2h-2zM254 342h2v2h-2zM255 343h2v2h-2zM256 341h2v2h-2zM257 341h2v2h-2zM257 342h2v2h-2zM258 342h2v2h-2zM259 339h2v2h-2zM260 341h2v2h-2zM261 340h2v2h-2zM261 339h2v2h-2zM262 341h2v2h-2zM263 339h2v2h-2zM264 342h2v2h-2zM265 342h2v2h-2zM265 343h2v2h-2zM266 341h2v2h-2zM267 342h2v2h-2zM268 340h2v2h-2zM269 341h2v2h-2zM270 340h2v2h-2zM270 341h2v2h-2zM271 341h2v2h-2zM272 340h2v2h-2zM273 342h2v2h-2zM274 342h2v2h-2zM274 342h2v2h-2zM275 341h2v2h-2zM276 339h2v2h-2zM277 339h2v2h-2zM278 342h2v2h-2zM278 341h2v2h-2zM279 341h2v2h-2zM280 342h2v2h-2zM281 342h2v2h-2zM282 341h2v2h-2zM282 341h2v2h-2zM283 341h2v2h-2zM284 342h2v2h-2zM285 341h2v2h-2zM286 341h2v2h-2zM286 342h2v2h-2zM287 340h2v2h-2zM288 341h2v2h-2zM289 341h2v2h-2zM290 339h2v2h-2zM290 340h2v2h-2zM291 343h2v2h-2zM292 341h2v2h-2zM293 342h2v2h-2zM294 342h2v2h-2zM294 341h2v2h-2zM295 342h2v2h-2zM296 341h2v2h-2zM297 341h2v2h-2zM298 342h2v2h-2zM299 342h2v2h-2zM299 342h2v2h-2zM300 341h2v2h-2zM301 342h2v2h-2zM302 341h2v2h-2zM303 343h2v2h-2zM303 341h2v2h-2zM304 340h2v2h-2zM305 341h2v2h-2zM306 343h2v2h-2zM307 340h2v2h-2zM307 340h2v2h-2zM308 342h2v2h-2zM309 340h2v2h-2zM310 341h2v2h-2zM311 340h2v2h-2zM311 340h2v2h-2zM312 341h2v2h-2zM313 341h2v2h-2zM314 343h2v2h-2zM315 341h2v2h-2zM315 342h2v2h-2zM316 343h2v2h-2zM317 339h2v2h-2zM318 340h2v2h-2zM319 340h2v2h-2zM319 342h2v2h-2zM320 342h2v2h-2zM321 341h2v2h-2zM322 341h2v2h-2zM323 342h2v2h-2zM323 340h2v2h-2zM324 340h2v2h-2zM325 341h2v2h-2zM326 342h2v2h-2zM327 341h2v2h-2zM328 341h2v2h-2zM328 342h2v2h-2zM329 341h2v2h-2zM330 343h2v2h-2zM331 342h2v2h-2zM332 342h2v2h-2zM332 341h2v2h-2zM333 340h2v2h-2zM334 340h2v2h-2zM335 340h2v2h-2zM336 341h2v2h-2zM336 340h2v2h-2zM337 341h2v2h-2zM338 341h2v2h-2zM339 343h2v2h-2zM340 339h2v2h-2zM340 340h2v2h-2zM341 340h2v2h-2zM342 341h2v2h-2zM343 341h2v2h-2zM344 343h2v2h-2zM344 341h2v2h-2zM345 340h2v2h-2zM346 342h2v2h-2zM347 342h2v2h-2zM348 340h2v2h-2zM348 343h2v2h-2zM349 342h2v2h-2zM350 342h2v2h-2zM351 340h2v2h-2zM352 341h2v2h-2zM352 340h2v2h-2zM353 342h2v2h-2zM354 340h2v2h-2zM355 341h2v2h-2zM356 342h2v2h-2zM357 342h2v2h-2zM357 343h2v2h-2zM358 339h2v2h-2zM359 338h2v2h-2zM360 341h2v2h-2zM361 340h2v2h-2zM361 340h2v2h-2zM362 340h2v2h-2zM363 341h2v2h-2zM364 341h2v2h-2zM365 341h2v2h-2zM365 341h2v2h-2zM366 341h2v2h-2zM367 339h2v2h-2zM368 342h2v2h-2zM369 340h2v2h-2zM369 340h2v2h-2zM370 341h2v2h-2zM371 342h2v2h-2zM372 340h2v2h-2zM373 340h2v2h-2zM373 341h2v2h-2zM374 342h2v2h-2zM375 341h2v2h-2zM376 342h2v2h-2zM377 340h2v2h-2zM377 340h2v2h-2zM378 340h2v2h-2zM379 342h2v2h-2zM380 341h2v2h-2zM381 342h2v2h-2zM381 341h2v2h-2zM382 341h2v2h-2zM383 340h2v2h-2zM384 341h2v2h-2zM385 340h2v2h-2zM386 343h2v2h-2zM386 341h2v2h-2zM387 341h2v2h-2zM388 339h2v2h-2zM389 343h2v2h-2zM390 342h2v2h-2zM390 342h2v2h-2zM391 340h2v2h-2zM392 342h2v2h-2zM393 339h2v2h-2zM394 341h2v2h-2zM394 341h2v2h-2zM395 342h2v2h-2zM396 342h2v2h-2zM397 340h2v2h-2zM398 341h2v2h-2zM398 342h2v2h-2zM399 342h2v2h-2zM400 342h2v2h-2zM401 342h2v2h-2zM402 341h2v2h-2zM402 341h2v2h-2zM403 341h2v2h-2zM404 342h2v2h-2zM405 340h2v2h-2zM406 342h2v2h-2zM406 340h2v2h-2zM407 342h2v2h-2zM408 339h2v2h-2zM409 344h2v2h-2zM410 341h2v2h-2zM410 340h2v2h-2zM411 340h2v2h-2zM412 342h2v2h-2zM413 340h2v2h-2zM414 340h2v2h-2zM415 343h2v2h-2zM415 341h2v2h-2zM416 341h2v2h-2zM417 341h2v2h-2zM418 340h2v2h-2zM419 342h2v2h-2zM419 341h2v2h-2zM420 341h2v2h-2zM421 343h2v2h-2zM422 340h2v2h-2zM423 342h2v2h-2zM423 342h2v2h-2zM424 340h2v2h-2zM425 342h2v2h-2zM426 340h2v2h-2zM427 340h2v2h-2zM427 342h2v2h-2zM428 341h2v2h-2zM429 340h2v2h-2zM430 341h2v2h-2zM431 339h2v2h-2zM431 339h2v2h-2zM432 342h2v2h-2zM433 339h2v2h-2zM434 340h2v2h-2zM435 339h2v2h-2zM435 342h2v2h-2zM436 343h2v2h-2zM437 341h2v2h-2zM438 341h2v2h-2zM439 342h2v2h-2zM439 340h2v2h-2zM440 343h2v2h-2zM441 339h2v2h-2zM442 340h2v2h-2zM443 342h2v2h-2zM444 341h2v2h-2zM444 342h2v2h-2zM445 340h2v2h-2zM446 340h2v2h-2zM447 343h2v2h-2zM448 339h2v2h-2zM448 341h2v2h-2zM449 343h2v2h-2zM450 342h2v2h-2zM451 342h2v2h-2zM452 342h2v2h-2zM452 342h2v2h-2zM453 343h2v2h-2zM454 340h2v2h-2zM455 340h2v2h-2zM456 342h2v2h-2zM456 342h2v2h-2zM457 340h2v2h-2zM458 339h2v2h-2zM459 341h2v2h-2zM460 342h2v2h-2zM460 341h2v2h-2zM461 341h2v2h-2zM462 342h2v2h-2zM463 340h2v2h-2zM464 342h2v2h-2zM464 342h2v2h-2zM465 341h2v2h-2zM466 340h2v2h-2zM467 342h2v2h-2zM468 341h2v2h-2zM468 341h2v2h-2zM469 341h2v2h-2zM470 340h2v2h-2zM471 341h2v2h-2zM472 340h2v2h-2zM473 340h2v2h-2zM473 342h2v2h-2zM474 341h2v2h-2zM475 341h2v2h-2zM476 340h2v2h-2zM477 340h2v2h-2zM477 340h2v2h-2zM478 339h2v2h-2zM479 342h2v2h-2zM480 340h2v2h-2zM481 339h2v2h-2zM481 340h2v2h-2zM482 342h2v2h-2zM483 342h2v2h-2zM484 340h2v2h-2zM485 341h2v2h-2zM485 342h2v2h-2zM486 342h2v2h-2zM487 342h2v2h-2zM488 339h2v2h-2zM489 339h2v2h-2zM489 338h2v2h-2zM490 340h2v2h-2zM491 339h2v2h-2zM492 340h2v2h-2zM493 339h2v2h-2zM493 340h2v2h-2zM494 341h2v2h-2zM495 339h2v2h-2zM496 338h2v2h-2zM497 340h2v2h-2zM497 339h2v2h-2zM498 338h2v2h-2zM499 338h2v2h-2zM500 339h2v2h-2zM501 338h2v2h-2zM502 339h2v2h-2zM502 340h2v2h-2zM503 339h2v2h-2zM504 338h2v2h-2zM505 339h2v2h-2zM506 339h2v2h-2zM506 338h2v2h-2zM507 337h2v2h-2zM508 340h2v2h-2zM509 338h2v2h-2zM510 337h2v2h-2zM510 338h2v2h-2zM511 337h2v2h-2zM512 339h2v2h-2zM513 339h2v2h-2zM514 338h2v2h-2zM514 336h2v2h-2zM515 337h2v2h-2zM516 337h2v2h-2zM517 337h2v2h-2zM518 337h2v2h-2zM518 338h2v2h-2zM519 338h2v2h-2zM520 337h2v2h-2zM521 337h2v2h-2zM522 336h2v2h-2zM522 336h2v2h-2zM523 337h2v2h-2zM524 337h2v2h-2zM525 337h2v2h-2zM526 337h2v2h-2zM526 338h2v2h-2zM527 337h2v2h-2zM528 336h2v2h-2zM529 337h2v2h-2zM530 335h2v2h-2zM531 336h2v2h-2zM531 336h2v2h-2zM532 336h2v2h-2zM533 336h2v2h-2zM534 335h2v2h-2zM535 337h2v2h-2zM535 335h2v2h-2zM536 336h2v2h-2zM537 336h2v2h-2zM538 335h2v2h-2zM539 336h2v2h-2zM539 335h2v2h-2zM540 335h2v2h-2zM541 335h2v2h-2zM542 336h2v2h-2zM543 336h2v2h-2zM543 336h2v2h-2zM544 335h2v2h-2zM545 336h2v2h-2zM546 336h2v2h-2zM547 336h2v2h-2zM547 336h2v2h-2zM548 334h2v2h-2zM549 335h2v2h-2zM550 335h2v2h-2zM551 336h2v2h-2zM551 335h2v2h-2zM552 335h2v2h-2zM553 335h2v2h-2zM554 334h2v2h-2zM555 335h2v2h-2zM555 336h2v2h-2zM556 336h2v2h-2zM557 335h2v2h-2zM558 335h2v2h-2zM559 335h2v2h-2zM560 335h2v2h-2zM560 335h2v2h-2zM561 336h2v2h-2zM562 336h2v2h-2zM563 335h2v2h-2zM564 336h2v2h-2zM564 336h2v2h-2zM565 335h2v2h-2zM566 336h2v2h-2zM567 336h2v2h-2zM568 334h2v2h-2zM568 335h2v2h-2zM569 334h2v2h-2zM570 335h2v2h-2zM571 334h2v2h-2zM572 335h2v2h-2zM572 334h2v2h-2zM573 335h2v2h-2zM574 337h2v2h-2zM575 335h2v2h-2zM576 335h2v2h-2zM576 335h2v2h-2zM577 334h2v2h-2zM578 335h2v2h-2zM579 335h2v2h-2zM580 335h2v2h-2zM580 335h2v2h-2zM581 335h2v2h-2zM582 335h2v2h-2zM583 333h2v2h-2zM584 334h2v2h-2zM584 335h2v2h-2zM585 333h2v2h-2zM586 334h2v2h-2zM587 335h2v2h-2zM588 334h2v2h-2zM589 333h2v2h-2zM589 335h2v2h-2zM590 334h2v2h-2zM591 334h2v2h-2zM592 334h2v2h-2zM593 335h2v2h-2zM593 334h2v2h-2zM594 335h2v2h-2zM595 333h2v2h-2zM596 334h2v2h-2zM597 334h2v2h-2zM597 335h2v2h-2zM598 335h2v2h-2zM599 335h2v2h-2zM600 335h2v2h-2zM601 334h2v2h-2zM601 333h2v2h-2zM602 336h2v2h-2zM603 335h2v2h-2zM604 332h2v2h-2zM605 335h2v2h-2zM605 333h2v2h-2zM606 334h2v2h-2zM607 333h2v2h-2zM608 334h2v2h-2zM609 334h2v2h-2zM609 334h2v2h-2zM610 334h2v2h-2zM611 335h2v2h-2zM612 335h2v2h-2zM613 334h2v2h-2zM613 334h2v2h-2zM614 334h2v2h-2zM615 335h2v2h-2zM616 335h2v2h-2zM617 333h2v2h-2zM618 333h2v2h-2zM618 335h2v2h-2zM619 334h2v2h-2zM620 334h2v2h-2zM621 334h2v2h-2zM622 335h2v2h-2zM622 335h2v2h-2zM623 335h2v2h-2zM624 334h2v2h-2zM625 335h2v2h-2zM626 334h2v2h-2zM626 334h2v2h-2zM627 334h2v2h-2zM628 333h2v2h-2zM629 334h2v2h-2zM630 335h2v2h-2zM630 335h2v2h-2zM631 334h2v2h-2zM632 334h2v2h-2zM633 335h2v2h-2zM634 334h2v2h-2zM634 333h2v2h-2zM635 333h2v2h-2zM636 335h2v2h-2zM637 334h2v2h-2zM638 334h2v2h-2zM638 335h2v2h-2zM639 334h2v2h-2zM640 332h2v2h-2zM641 334h2v2h-2zM642 333h2v2h-2zM642 333h2v2h-2zM643 334h2v2h-2zM644 334h2v2h-2zM645 333h2v2h-2zM646 333h2v2h-2zM647 334h2v2h-2zM647 334h2v2h-2zM648 334h2v2h-2zM649 334h2v2h-2zM650 333h2v2h-2zM651 333h2v2h-2zM651 334h2v2h-2zM652 334h2v2h-2zM653 333h2v2h-2zM654 334h2v2h-2zM655 333h2v2h-2zM655 334h2v2h-2zM656 335h2v2h-2zM657 333h2v2h-2zM658 334h2v2h-2zM659 334h2v2h-2zM659 334h2v2h-2zM660 334h2v2h-2zM661 336h2v2h-2zM662 336h2v2h-2zM663 336h2v2h-2zM663 336h2v2h-2zM664 337h2v2h-2zM665 336h2v2h-2zM666 338h2v2h-2zM667 335h2v2h-2zM667 336h2v2h-2zM668 335h2v2h-2zM669 338h2v2h-2zM670 336h2v2h-2zM671 337h2v2h-2zM671 335h2v2h-2zM672 337h2v2h-2zM673 336h2v2h-2zM674 336h2v2h-2zM675 337h2v2h-2zM676 335h2v2h-2zM676 336h2v2h-2zM677 337h2v2h-2zM678 336h2v2h-2zM679 338h2v2h-2zM680 336h2v2h-2zM680 335h2v2h-2zM681 336h2v2h-2zM682 336h2v2h-2zM683 336h2v2h-2zM684 336h2v2h-2zM684 337h2v2h-2zM685 337h2v2h-2zM686 336h2v2h-2zM687 336h2v2h-2zM688 336h2v2h-2zM688 334h2v2h-2zM689 337h2v2h-2zM690 336h2v2h-2zM691 335h2v2h-2zM692 336h2v2h-2zM692 336h2v2h-2zM693 336h2v2h-2zM694 338h2v2h-2zM695 336h2v2h-2zM696 336h2v2h-2zM696 337h2v2h-2zM697 336h2v2h-2zM698 336h2v2h-2zM699 336h2v2h-2zM700 336h2v2h-2zM700 336h2v2h-2zM701 335h2v2h-2zM702 336h2v2h-2zM703 336h2v2h-2zM704 334h2v2h-2zM705 336h2v2h-2zM705 335h2v2h-2zM706 336h2v2h-2zM707 336h2v2h-2zM708 334h2v2h-2zM709 334h2v2h-2zM709 331h2v2h-2zM710 330h2v2h-2zM711 330h2v2h-2zM712 330h2v2h-2zM713 331h2v2h-2zM713 331h2v2h-2zM714 327h2v2h-2zM715 319h2v2h-2zM716 323h2v2h-2zM717 319h2v2h-2zM717 322h2v2h-2zM718 320h2v2h-2zM719 322h2v2h-2zM720 320h2v2h-2zM721 321h2v2h-2zM721 320h2v2h-2zM722 322h2v2h-2zM723 320h2v2h-2zM724 321h2v2h-2zM725 320h2v2h-2zM725 321h2v2h-2zM726 321h2v2h-2zM727 321h2v2h-2zM728 320h2v2h-2zM729 321h2v2h-2zM729 321h2v2h-2zM730 321h2v2h-2zM731 321h2v2h-2zM732 321h2v2h-2zM733 321h2v2h-2zM734 319h2v2h-2zM734 320h2v2h-2zM735 323h2v2h-2zM736 321h2v2h-2zM737 320h2v2h-2zM738 322h2v2h-2zM738 321h2v2h-2zM739 320h2v2h-2zM740 321h2v2h-2zM741 324h2v2h-2zM742 323h2v2h-2zM742 322h2v2h-2zM743 322h2v2h-2zM744 322h2v2h-2zM745 321h2v2h-2zM746 320h2v2h-2zM746 320h2v2h-2zM747 318h2v2h-2zM748 318h2v2h-2zM749 317h2v2h-2zM750 317h2v2h-2zM750 317h2v2h-2zM751 318h2v2h-2zM752 318h2v2h-2zM753 318h2v2h-2zM754 319h2v2h-2zM754 319h2v2h-2zM755 320h2v2h-2zM756 321h2v2h-2zM757 323h2v2h-2zM758 325h2v2h-2zM758 324h2v2h-2zM759 325h2v2h-2zM760 326h2v2h-2zM761 326h2v2h-2zM762 325h2v2h-2zM763 325h2v2h-2zM763 325h2v2h-2zM764 325h2v2h-2zM765 326h2v2h-2zM766 324h2v2h-2zM767 325h2v2h-2zM767 325h2v2h-2zM768 325h2v2h-2zM769 323h2v2h-2zM770 323h2v2h-2zM771 324h2v2h-2zM771 323h2v2h-2zM772 322h2v2h-2zM773 321h2v2h-2zM774 322h2v2h-2zM775 323h2v2h-2z"/>
<path fill="#0000ff" d="M80 357h2v2h-2zM80 359h2v2h-2zM81 358h2v2h-2zM82 359h2v2h-2zM83 361h2v2h-2zM83 357h2v2h-2zM84 358h2v2h-2zM85 359h2v2h-2zM86 360h2v2h-2zM87 361h2v2h-2zM87 363h2v2h-2zM88 360h2v2h-2zM89 359h2v2h-2zM90 361h2v2h-2zM91 360h2v2h-2zM91 360h2v2h-2zM92 359h2v2h-2zM93 363h2v2h-2zM94 360h2v2h-2zM95 359h2v2h-2zM96 360h2v2h-2zM96 359h2v2h-2zM97 359h2v2h-2zM98 361h2v2h-2zM99 358h2v2h-2zM100 360h2v2h-2zM100 359h2v2h-2zM101 358h2v2h-2zM102 358h2v2h-2zM103 358h2v2h-2zM104 360h2v2h-2zM104 363h2v2h-2zM105 361h2v2h-2zM106 359h2v2h-2zM107 359h2v2h-2zM108 358h2v2h-2zM108 359h2v2h-2zM109 360h2v2h-2zM110 358h2v2h-2zM111 359h2v2h-2zM112 357h2v2h-2zM112 359h2v2h-2zM113 360h2v2h-2zM114 359h2v2h-2zM115 358h2v2h-2zM116 357h2v2h-2zM116 359h2v2h-2zM117 356h2v2h-2zM118 360h2v2h-2zM119 357h2v2h-2zM120 358h2v2h-2zM120 359h2v2h-2zM121 360h2v2h-2zM122 357h2v2h-2zM123 361h2v2h-2zM124 357h2v2h-2zM125 362h2v2h-2zM125 358h2v2h-2zM126 358h2v2h-2zM127 357h2v2h-2zM128 358h2v2h-2zM129 358h2v2h-2zM129 358h2v2h-2zM130 357h2v2h-2zM131 360h2v2h-2zM132 357h2v2h-2zM133 358h2v2h-2zM133 361h2v2h-2zM134 360h2v2h-2zM135 367h2v2h-2zM136 357h2v2h-2zM137 361h2v2h-2zM137 360h2v2h-2zM138 362h2v2h-2zM139 354h2v2h-2zM140 360h2v2h-2zM141 358h2v2h-2zM141 356h2v2h-2zM142 359h2v2h-2zM143 361h2v2h-2zM144 357h2v2h-2zM145 355h2v2h-2zM145 359h2v2h-2zM146 362h2v2h-2zM147 357h2v2h-2zM148 361h2v2h-2zM149 362h2v2h-2zM149 358h2v2h-2zM150 357h2v2h-2zM151 359h2v2h-2zM152 359h2v2h-2zM153 355h2v2h-2zM154 359h2v2h-2zM154 361h2v2h-2zM155 358h2v2h-2zM156 359h2v2h-2zM157 356h2v2h-2zM158 360h2v2h-2zM158 359h2v2h-2zM159 357h2v2h-2zM160 362h2v2h-2zM161 359h2v2h-2zM162 358h2v2h-2zM162 357h2v2h-2zM163 361h2v2h-2zM164 363h2v2h-2zM165 358h2v2h-2zM166 358h2v2h-2zM166 357h2v2h-2zM167 363h2v2h-2zM168 360h2v2h-2zM169 363h2v2h-2zM170 362h2v2h-2zM170 359h2v2h-2zM171 361h2v2h-2zM172 360h2v2h-2zM173 361h2v2h-2zM174 361h2v2h-2zM174 363h2v2h-2zM175 363h2v2h-2zM176 358h2v2h-2zM177 361h2v2h-2zM178 364h2v2h-2zM178 362h2v2h-2zM179 356h2v2h-2zM180 358h2v2h-2zM181 355h2v2h-2zM182 358h2v2h-2zM183 357h2v2h-2zM183 356h2v2h-2zM184 361h2v2h-2zM185 357h2v2h-2zM186 358h2v2h-2zM187 360h2v2h-2zM187 358h2v2h-2zM188 364h2v2h-2zM189 362h2v2h-2zM190 360h2v2h-2zM191 362h2v2h-2zM191 358h2v2h-2zM192 357h2v2h-2zM193 360h2v2h-2zM194 360h2v2h-2zM195 356h2v2h-2zM195 358h2v2h-2zM196 360h2v2h-2zM197 360h2v2h-2zM198 355h2v2h-2zM199 360h2v2h-2zM199 358h2v2h-2zM200 359h2v2h-2zM201 358h2v2h-2zM202 360h2v2h-2zM203 360h2v2h-2zM203 359h2v2h-2zM204 362h2v2h-2zM205 358h2v2h-2zM206 359h2v2h-2zM207 359h2v2h-2zM207 361h2v2h-2zM208 363h2v2h-2zM209 357h2v2h-2zM210 361h2v2h-2zM211 357h2v2h-2zM212 357h2v2h-2zM212 357h2v2h-2zM213 359h2v2h-2zM214 358h2v2h-2zM215 365h2v2h-2zM216 354h2v2h-2zM216 360h2v2h-2zM217 361h2v2h-2zM218 357h2v2h-2zM219 357h2v2h-2zM220 357h2v2h-2zM220 358h2v2h-2zM221 357h2v2h-2zM222 359h2v2h-2zM223 360h2v2h-2zM224 358h2v2h-2zM224 359h2v2h-2zM225 361h2v2h-2zM226 355h2v2h-2zM227 361h2v2h-2zM228 359h2v2h-2zM228 354h2v2h-2zM229 360h2v2h-2zM230 357h2v2h-2zM231 360h2v2h-2zM232 360h2v2h-2zM232 357h2v2h-2zM233 359h2v2h-2zM234 358h2v2h-2zM235 358h2v2h-2zM236 357h2v2h-2zM236 362h2v2h-2zM237 362h2v2h-2zM238 359h2v2h-2zM239 359h2v2h-2zM240 356h2v2h-2zM241 360h2v2h-2zM241 357h2v2h-2zM242 359h2v2h-2zM243 360h2v2h-2zM244 357h2v2h-2zM245 361h2v2h-2zM245 358h2v2h-2zM246 358h2v2h-2zM247 361h2v2h-2zM248 359h2v2h-2zM249 358h2v2h-2zM249 358h2v2h-2zM250 361h2v2h-2zM251 361h2v2h-2zM252 361h2v2h-2zM253 358h2v2h-2zM253 359h2v2h-2zM254 359h2v2h-2zM255 368h2v2h-2zM256 363h2v2h-2zM257 361h2v2h-2zM257 358h2v2h-2zM258 358h2v2h-2zM259 357h2v2h-2zM260 357h2v2h-2zM261 358h2v2h-2zM261 358h2v2h-2zM262 361h2v2h-2zM263 358h2v2h-2zM264 362h2v2h-2zM265 357h2v2h-2zM265 357h2v2h-2zM266 357h2v2h-2zM267 362h2v2h-2zM268 358h2v2h-2zM269 358h2v2h-2zM270 360h2v2h-2zM270 360h2v2h-2zM271 361h2v2h-2zM272 357h2v2h-2zM273 360h2v2h-2zM274 358h2v2h-2zM274 359h2v2h-2zM275 357h2v2h-2zM276 358h2v2h-2zM277 360h2v2h-2zM278 364h2v2h-2zM278 361h2v2h-2zM279 356h2v2h-2zM280 361h2v2h-2zM281 361h2v2h-2zM282 357h2v2h-2zM282 363h2v2h-2zM283 359h2v2h-2zM284 356h2v2h-2zM285 362h2v2h-2zM286 357h2v2h-2zM286 362h2v2h-2zM287 357h2v2h-2zM288 357h2v2h-2zM289 359h2v2h-2zM290 357h2v2h-2zM290 360h2v2h-2zM291 357h2v2h-2zM292 361h2v2h-2zM293 358h2v2h-2zM294 359h2v2h-2zM294 357h2v2h-2zM295 362h2v2h-2zM296 358h2v2h-2zM297 359h2v2h-2zM298 358h2v2h-2zM299 357h2v2h-2zM299 359h2v2h-2zM300 357h2v2h-2zM301 358h2v2h-2zM302 356h2v2h-2zM303 360h2v2h-2zM303 363h2v2h-2zM304 359h2v2h-2zM305 360h2v2h-2zM306 357h2v2h-2zM307 355h2v2h-2zM307 360h2v2h-2zM308 360h2v2h-2zM309 359h2v2h-2zM310 360h2v2h-2zM311 360h2v2h-2zM311 356h2v2h-2zM312 359h2v2h-2zM313 359h2v2h-2zM314 362h2v2h-2zM315 359h2v2h-2zM315 359h2v2h-2zM316 360h2v2h-2zM317 354h2v2h-2zM318 359h2v2h-2zM319 358h2v2h-2zM319 359h2v2h-2zM320 361h2v2h-2zM321 358h2v2h-2zM322 358h2v2h-2zM323 360h2v2h-2zM323 359h2v2h-2zM324 358h2v2h-2zM325 361h2v2h-2zM326 360h2v2h-2zM327 360h2v2h-2zM328 358h2v2h-2zM328 358h2v2h-2zM329 359h2v2h-2zM330 358h2v2h-2zM331 360h2v2h-2zM332 360h2v2h-2zM332 357h2v2h-2zM333 361h2v2h-2zM334 361h2v2h-2zM335 363h2v2h-2zM336 359h2v2h-2zM336 360h2v2h-2zM337 355h2v2h-2zM338 361h2v2h-2zM339 357h2v2h-2zM340 359h2v2h-2zM340 354h2v2h-2zM341 359h2v2h-2zM342 358h2v2h-2zM343 361h2v2h-2zM344 360h2v2h-2zM344 360h2v2h-2zM345 361h2v2h-2zM346 360h2v2h-2zM347 359h2v2h-2zM348 360h2v2h-2zM348 360h2v2h-2zM349 360h2v2h-2zM350 358h2v2h-2zM351 358h2v2h-2zM352 361h2v2h-2zM352 358h2v2h-2zM353 360h2v2h-2zM354 355h2v2h-2zM355 361h2v2h-2zM356 358h2v2h-2zM357 359h2v2h-2zM357 361h2v2h-2zM358 361h2v2h-2zM359 361h2v2h-2zM360 362h2v2h-2zM361 364h2v2h-2zM361 359h2v2h-2zM362 358h2v2h-2zM363 359h2v2h-2zM364 361h2v2h-2zM365 361h2v2h-2zM365 361h2v2h-2zM366 359h2v2h-2zM367 357h2v2h-2zM368 361h2v2h-2zM369 358h2v2h-2zM369 358h2v2h-2zM370 361h2v2h-2zM371 361h2v2h-2zM372 360h2v2h-2zM373 361h2v2h-2zM373 358h2v2h-2zM374 361h2v2h-2zM375 359h2v2h-2zM376 358h2v2h-2zM377 359h2v2h-2zM377 357h2v2h-2zM378 356h2v2h-2zM379 355h2v2h-2zM380 361h2v2h-2zM381 357h2v2h-2zM381 358h2v2h-2zM382 359h2v2h-2zM383 360h2v2h-2zM384 361h2v2h-2zM385 357h2v2h-2zM386 358h2v2h-2zM386 361h2v2h-2zM387 359h2v2h-2zM388 359h2v2h-2zM389 361h2v2h-2zM390 362h2v2h-2zM390 357h2v2h-2zM391 359h2v2h-2zM392 359h2v2h-2zM393 360h2v2h-2zM394 358h2v2h-2zM394 359h2v2h-2zM395 361h2v2h-2zM396 360h2v2h-2zM397 357h2v2h-2zM398 361h2v2h-2zM398 361h2v2h-2zM399 359h2v2h-2zM400 360h2v2h-2zM401 365h2v2h-2zM402 359h2v2h-2zM402 361h2v2h-2zM403 358h2v2h-2zM404 359h2v2h-2zM405 359h2v2h-2zM406 358h2v2h-2zM406 361h2v2h-2zM407 358h2v2h-2zM408 359h2v2h-2zM409 359h2v2h-2zM410 360h2v2h-2zM410 357h2v2h-2zM411 359h2v2h-2zM412 360h2v2h-2zM413 360h2v2h-2zM414 359h2v2h-2zM415 360h2v2h-2zM415 360h2v2h-2zM416 360h2v2h-2zM417 360h2v2h-2zM418 358h2v2h-2zM419 360h2v2h-2zM419 358h2v2h-2zM420 358h2v2h-2zM421 357h2v2h-2zM422 359h2v2h-2zM423 359h2v2h-2zM423 358h2v2h-2zM424 360h2v2h-2zM425 360h2v2h-2zM426 359h2v2h-2zM427 360h2v2h-2zM427 361h2v2h-2zM428 359h2v2h-2zM429 361h2v2h-2zM430 364h2v2h-2zM431 358h2v2h-2zM431 357h2v2h-2zM432 357h2v2h-2zM433 361h2v2h-2zM434 358h2v2h-2zM435 358h2v2h-2zM435 357h2v2h-2zM436 357h2v2h-2zM437 362h2v2h-2zM438 358h2v2h-2zM439 359h2v2h-2zM439 360h2v2h-2zM440 360h2v2h-2zM441 358h2v2h-2zM442 359h2v2h-2zM443 360h2v2h-2zM444 363h2v2h-2zM444 358h2v2h-2zM445 360h2v2h-2zM446 360h2v2h-2zM447 356h2v2h-2zM448 359h2v2h-2zM448 357h2v2h-2zM449 358h2v2h-2zM450 360h2v2h-2zM451 356h2v2h-2zM452 361h2v2h-2zM452 359h2v2h-2zM453 359h2v2h-2zM454 360h2v2h-2zM455 358h2v2h-2zM456 357h2v2h-2zM456 360h2v2h-2zM457 359h2v2h-2zM458 357h2v2h-2zM459 358h2v2h-2zM460 360h2v2h-2zM460 358h2v2h-2zM461 358h2v2h-2zM462 360h2v2h-2zM463 360h2v2h-2zM464 358h2v2h-2zM464 357h2v2h-2zM465 361h2v2h-2zM466 360h2v2h-2zM467 358h2v2h-2zM468 359h2v2h-2zM468 360h2v2h-2zM469 365h2v2h-2zM470 359h2v2h-2zM471 364h2v2h-2zM472 359h2v2h-2zM473 358h2v2h-2zM473 358h2v2h-2zM474 360h2v2h-2zM475 359h2v2h-2zM476 359h2v2h-2zM477 359h2v2h-2zM477 359h2v2h-2zM478 358h2v2h-2zM479 359h2v2h-2zM480 361h2v2h-2zM481 359h2v2h-2zM481 357h2v2h-2zM482 363h2v2h-2zM483 360h2v2h-2zM484 361h2v2h-2zM485 359h2v2h-2zM485 359h2v2h-2zM486 361h2v2h-2zM487 360h2v2h-2zM488 360h2v2h-2zM489 360h2v2h-2zM489 356h2v2h-2zM490 358h2v2h-2zM491 359h2v2h-2zM492 359h2v2h-2zM493 357h2v2h-2zM493 356h2v2h-2zM494 360h2v2h-2zM495 356h2v2h-2zM496 360h2v2h-2zM497 359h2v2h-2zM497 358h2v2h-2zM498 359h2v2h-2zM499 357h2v2h-2zM500 358h2v2h-2zM501 356h2v2h-2zM502 360h2v2h-2zM502 357h2v2h-2zM503 357h2v2h-2zM504 358h2v2h-2zM505 355h2v2h-2zM506 359h2v2h-2zM506 359h2v2h-2zM507 352h2v2h-2zM508 355h2v2h-2zM509 359h2v2h-2zM510 359h2v2h-2zM510 355h2v2h-2zM511 357h2v2h-2zM512 356h2v2h-2zM513 358h2v2h-2zM514 358h2v2h-2zM514 360h2v2h-2zM515 359h2v2h-2zM516 355h2v2h-2zM517 358h2v2h-2zM518 356h2v2h-2zM518 355h2v2h-2zM519 357h2v2h-2zM520 361h2v2h-2zM521 361h2v2h-2zM522 356h2v2h-2zM522 357h2v2h-2zM523 357h2v2h-2zM524 360h2v2h-2zM525 357h2v2h-2zM526 357h2v2h-2zM526 358h2v2h-2zM527 357h2v2h-2zM528 359h2v2h-2zM529 357h2v2h-2zM530 360h2v2h-2zM531 358h2v2h-2zM531 359h2v2h-2zM532 359h2v2h-2zM533 357h2v2h-2zM534 358h2v2h-2zM535 358h2v2h-2zM535 358h2v2h-2zM536 357h2v2h-2zM537 356h2v2h-2zM538 357h2v2h-2zM539 359h2v2h-2zM539 356h2v2h-2zM540 358h2v2h-2zM541 356h2v2h-2zM542 359h2v2h-2zM543 356h2v2h-2zM543 356h2v2h-2zM544 357h2v2h-2zM545 356h2v2h-2zM546 355h2v2h-2zM547 357h2v2h-2zM547 357h2v2h-2zM548 357h2v2h-2zM549 357h2v2h-2zM550 357h2v2h-2zM551 355h2v2h-2zM551 355h2v2h-2zM552 357h2v2h-2zM553 357h2v2h-2zM554 356h2v2h-2zM555 356h2v2h-2zM555 355h2v2h-2zM556 355h2v2h-2zM557 356h2v2h-2zM558 355h2v2h-2zM559 357h2v2h-2zM560 356h2v2h-2zM560 357h2v2h-2zM561 357h2v2h-2zM562 356h2v2h-2zM563 363h2v2h-2zM564 356h2v2h-2zM564 354h2v2h-2zM565 355h2v2h-2zM566 357h2v2h-2zM567 356h2v2h-2zM568 363h2v2h-2zM568 354h2v2h-2zM569 355h2v2h-2zM570 355h2v2h-2zM571 355h2v2h-2zM572 357h2v2h-2zM572 357h2v2h-2zM573 358h2v2h-2zM574 357h2v2h-2zM575 356h2v2h-2zM576 357h2v2h-2zM576 355h2v2h-2zM577 356h2v2h-2zM578 355h2v2h-2zM579 355h2v2h-2zM580 356h2v2h-2zM580 356h2v2h-2zM581 354h2v2h-2zM582 353h2v2h-2zM583 356h2v2h-2zM584 356h2v2h-2zM584 355h2v2h-2zM585 356h2v2h-2zM586 357h2v2h-2zM587 356h2v2h-2zM588 357h2v2h-2zM589 355h2v2h-2zM589 355h2v2h-2zM590 355h2v2h-2zM591 356h2v2h-2zM592 355h2v2h-2zM593 355h2v2h-2zM593 357h2v2h-2zM594 355h2v2h-2zM595 355h2v2h-2zM596 355h2v2h-2zM597 356h2v2h-2zM597 355h2v2h-2zM598 356h2v2h-2zM599 355h2v2h-2zM600 355h2v2h-2zM601 353h2v2h-2zM601 354h2v2h-2zM602 359h2v2h-2zM603 357h2v2h-2zM604 354h2v2h-2zM605 354h2v2h-2zM605 356h2v2h-2zM606 355h2v2h-2zM607 353h2v2h-2zM608 356h2v2h-2zM609 355h2v2h-2zM609 357h2v2h-2zM610 353h2v2h-2zM611 354h2v2h-2zM612 356h2v2h-2zM613 354h2v2h-2zM613 354h2v2h-2zM614 355h2v2h-2zM615 356h2v2h-2zM616 353h2v2h-2zM617 355h2v2h-2zM618 357h2v2h-2zM618 353h2v2h-2zM619 354h2v2h-2zM620 355h2v2h-2zM621 355h2v2h-2zM622 356h2v2h-2zM622 357h2v2h-2zM623 352h2v2h-2zM624 353h2v2h-2zM625 356h2v2h-2zM626 357h2v2h-2zM626 353h2v2h-2zM627 355h2v2h-2zM628 354h2v2h-2zM629 355h2v2h-2zM630 354h2v2h-2zM630 356h2v2h-2zM631 354h2v2h-2zM632 353h2v2h-2zM633 354h2v2h-2zM634 353h2v2h-2zM634 354h2v2h-2zM635 355h2v2h-2zM636 355h2v2h-2zM637 356h2v2h-2zM638 353h2v2h-2zM638 353h2v2h-2zM639 354h2v2h-2zM640 355h2v2h-2zM641 356h2v2h-2zM642 356h2v2h-2zM642 354h2v2h-2zM643 355h2v2h-2zM644 355h2v2h-2zM645 355h2v2h-2zM646 356h2v2h-2zM647 355h2v2h-2zM647 354h2v2h-2zM648 352h2v2h-2zM649 355h2v2h-2zM650 355h2v2h-2zM651 354h2v2h-2zM651 356h2v2h-2zM652 354h2v2h-2zM653 355h2v2h-2zM654 352h2v2h-2zM655 353h2v2h-2zM655 356h2v2h-2zM656 356h2v2h-2zM657 354h2v2h-2zM658 354h2v2h-2zM659 355h2v2h-2zM659 354h2v2h-2zM660 355h2v2h-2zM661 355h2v2h-2zM662 354h2v2h-2zM663 355h2v2h-2zM663 354h2v2h-2zM664 355h2v2h-2zM665 362h2v2h-2zM666 354h2v2h-2zM667 357h2v2h-2zM667 357h2v2h-2zM668 355h2v2h-2zM669 358h2v2h-2zM670 358h2v2h-2zM671 358h2v2h-2zM671 356h2v2h-2zM672 358h2v2h-2zM673 356h2v2h-2zM674 356h2v2h-2zM675 357h2v2h-2zM676 355h2v2h-2zM676 357h2v2h-2zM677 358h2v2h-2zM678 356h2v2h-2zM679 357h2v2h-2zM680 356h2v2h-2zM680 356h2v2h-2zM681 357h2v2h-2zM682 358h2v2h-2zM683 355h2v2h-2zM684 357h2v2h-2zM684 359h2v2h-2zM685 356h2v2h-2zM686 358h2v2h-2zM687 358h2v2h-2zM688 356h2v2h-2zM688 356h2v2h-2zM689 358h2v2h-2zM690 356h2v2h-2zM691 359h2v2h-2zM692 356h2v2h-2zM692 356h2v2h-2zM693 358h2v2h-2zM694 355h2v2h-2zM695 357h2v2h-2zM696 355h2v2h-2zM696 358h2v2h-2zM697 358h2v2h-2zM698 357h2v2h-2zM699 357h2v2h-2zM700 355h2v2h-2zM700 356h2v2h-2zM701 356h2v2h-2zM702 354h2v2h-2zM703 353h2v2h-2zM704 354h2v2h-2zM705 351h2v2h-2zM705 352h2v2h-2zM706 352h2v2h-2zM707 350h2v2h-2zM708 350h2v2h-2zM709 348h2v2h-2zM709 350h2v2h-2zM710 349h2v2h-2zM711 349h2v2h-2zM712 347h2v2h-2zM713 346h2v2h-2zM713 346h2v2h-2zM714 346h2v2h-2zM715 347h2v2h-2zM716 347h2v2h-2zM717 350h2v2h-2zM717 350h2v2h-2zM718 348h2v2h-2zM719 349h2v2h-2zM720 349h2v2h-2zM721 350h2v2h-2zM721 349h2v2h-2zM722 349h2v2h-2zM723 349h2v2h-2zM724 350h2v2h-2zM725 349h2v2h-2zM725 350h2v2h-2zM726 349h2v2h-2zM727 348h2v2h-2zM728 347h2v2h-2zM729 350h2v2h-2zM729 349h2v2h-2zM730 347h2v2h-2zM731 349h2v2h-2zM732 350h2v2h-2zM733 348h2v2h-2zM734 349h2v2h-2zM734 348h2v2h-2zM735 349h2v2h-2zM736 348h2v2h-2zM737 348h2v2h-2zM738 350h2v2h-2zM738 348h2v2h-2zM739 348h2v2h-2zM740 349h2v2h-2zM741 348h2v2h-2zM742 347h2v2h-2zM742 348h2v2h-2zM743 348h2v2h-2zM744 350h2v2h-2zM745 348h2v2h-2zM746 347h2v2h-2zM746 349h2v2h-2zM747 350h2v2h-2zM748 347h2v2h-2zM749 346h2v2h-2zM750 346h2v2h-2zM750 347h2v2h-2zM751 347h2v2h-2zM752 348h2v2h-2zM753 346h2v2h-2zM754 347h2v2h-2zM754 347h2v2h-2zM755 345h2v2h-2zM756 346h2v2h-2zM757 347h2v2h-2zM758 347h2v2h-2zM758 348h2v2h-2zM759 348h2v2h-2zM760 346h2v2h-2zM761 346h2v2h-2zM762 346h2v2h-2zM763 346h2v2h-2zM763 344h2v2h-2zM764 345h2v2h-2zM765 344h2v2h-2zM766 343h2v2h-2zM767 344h2v2h-2zM767 343h2v2h-2zM768 343h2v2h-2zM769 345h2v2h-2zM770 346h2v2h-2zM771 345h2v2h-2zM771 346h2v2h-2zM772 347h2v2h-2zM773 347h2v2h-2zM774 344h2v2h-2zM775 347h2v2h-2z"/>
<path fill="#c46c4c" d="M80 403h2v2h-2zM82 395h2v2h-2zM84 403h2v2h-2zM86 403h2v2h-2zM87 403h2v2h-2zM87 403h2v2h-2zM89 403h2v2h-2zM94 398h2v2h-2zM96 398h2v2h-2zM97 398h2v2h-2zM100 398h2v2h-2zM102 403h2v2h-2zM104 403h2v2h-2zM107 403h2v2h-2zM111 398h2v2h-2zM112 403h2v2h-2zM115 403h2v2h-2zM118 398h2v2h-2zM119 403h2v2h-2zM121 403h2v2h-2zM124 403h2v2h-2zM125 403h2v2h-2zM128 403h2v2h-2zM129 398h2v2h-2zM133 395h2v2h-2zM133 398h2v2h-2zM135 403h2v2h-2zM136 403h2v2h-2zM137 403h2v2h-2zM139 398h2v2h-2zM144 403h2v2h-2zM145 403h2v2h-2zM148 403h2v2h-2zM149 395h2v2h-2zM149 403h2v2h-2zM152 393h2v2h-2zM158 403h2v2h-2zM161 398h2v2h-2zM162 403h2v2h-2zM162 403h2v2h-2zM165 398h2v2h-2zM167 403h2v2h-2zM168 403h2v2h-2zM169 395h2v2h-2zM171 403h2v2h-2zM174 403h2v2h-2zM176 403h2v2h-2zM177 403h2v2h-2zM181 398h2v2h-2zM182 403h2v2h-2zM183 403h2v2h-2zM186 403h2v2h-2zM187 395h2v2h-2zM191 398h2v2h-2zM191 395h2v2h-2zM193 403h2v2h-2zM194 403h2v2h-2zM195 403h2v2h-2zM202 403h2v2h-2zM203 398h2v2h-2zM204 398h2v2h-2zM205 398h2v2h-2zM207 403h2v2h-2zM207 403h2v2h-2zM209 395h2v2h-2zM212 398h2v2h-2zM213 403h2v2h-2zM215 403h2v2h-2zM216 398h2v2h-2zM218 395h2v2h-2zM219 393h2v2h-2zM220 403h2v2h-2zM223 403h2v2h-2zM224 403h2v2h-2zM225 403h2v2h-2zM226 403h2v2h-2zM228 403h2v2h-2zM230 398h2v2h-2zM231 403h2v2h-2zM232 398h2v2h-2zM232 403h2v2h-2zM235 398h2v2h-2zM236 403h2v2h-2zM237 403h2v2h-2zM239 398h2v2h-2zM240 403h2v2h-2zM244 403h2v2h-2zM245 403h2v2h-2zM247 403h2v2h-2zM251 398h2v2h-2zM252 398h2v2h-2zM255 398h2v2h-2zM256 403h2v2h-2zM257 398h2v2h-2zM258 403h2v2h-2zM261 398h2v2h-2zM264 398h2v2h-2zM266 403h2v2h-2zM271 398h2v2h-2zM273 403h2v2h-2zM274 403h2v2h-2zM275 403h2v2h-2zM276 403h2v2h-2zM277 403h2v2h-2zM278 393h2v2h-2zM281 398h2v2h-2zM282 398h2v2h-2zM285 398h2v2h-2zM286 403h2v2h-2zM287 395h2v2h-2zM288 395h2v2h-2zM290 403h2v2h-2zM290 403h2v2h-2zM291 403h2v2h-2zM293 403h2v2h-2zM294 398h2v2h-2zM294 398h2v2h-2zM296 403h2v2h-2zM297 398h2v2h-2zM298 398h2v2h-2zM299 403h2v2h-2zM301 398h2v2h-2zM302 395h2v2h-2zM303 403h2v2h-2zM304 403h2v2h-2zM305 398h2v2h-2zM306 403h2v2h-2zM307 398h2v2h-2zM308 393h2v2h-2zM314 395h2v2h-2zM315 403h2v2h-2zM317 403h2v2h-2zM318 395h2v2h-2zM319 393h2v2h-2zM319 403h2v2h-2zM320 403h2v2h-2zM321 398h2v2h-2zM323 403h2v2h-2zM323 403h2v2h-2zM325 398h2v2h-2zM326 395h2v2h-2zM328 395h2v2h-2zM329 403h2v2h-2zM330 398h2v2h-2zM332 403h2v2h-2zM334 403h2v2h-2zM335 398h2v2h-2zM336 395h2v2h-2zM337 393h2v2h-2zM338 403h2v2h-2zM339 403h2v2h-2zM340 403h2v2h-2zM341 398h2v2h-2zM342 403h2v2h-2zM343 392h2v2h-2zM344 403h2v2h-2zM344 398h2v2h-2zM345 403h2v2h-2zM346 403h2v2h-2zM348 398h2v2h-2zM348 403h2v2h-2zM349 398h2v2h-2zM350 393h2v2h-2zM351 395h2v2h-2zM352 398h2v2h-2zM352 395h2v2h-2zM353 403h2v2h-2zM354 395h2v2h-2zM355 395h2v2h-2zM356 403h2v2h-2zM357 398h2v2h-2zM358 395h2v2h-2zM359 398h2v2h-2zM360 398h2v2h-2zM361 403h2v2h-2zM361 403h2v2h-2zM362 398h2v2h-2zM363 398h2v2h-2zM364 393h2v2h-2zM365 403h2v2h-2zM365 392h2v2h-2zM367 398h2v2h-2zM369 392h2v2h-2zM369 393h2v2h-2zM370 393h2v2h-2zM372 403h2v2h-2zM373 395h2v2h-2zM374 403h2v2h-2zM375 398h2v2h-2zM376 403h2v2h-2zM377 390h2v2h-2zM377 398h2v2h-2zM378 395h2v2h-2zM379 403h2v2h-2zM380 403h2v2h-2zM381 398h2v2h-2zM381 387h2v2h-2zM383 403h2v2h-2zM384 398h2v2h-2zM385 403h2v2h-2zM386 393h2v2h-2zM386 403h2v2h-2zM387 395h2v2h-2zM388 403h2v2h-2zM389 403h2v2h-2zM390 395h2v2h-2zM391 403h2v2h-2zM392 392h2v2h-2zM393 395h2v2h-2zM394 403h2v2h-2zM394 403h2v2h-2zM395 398h2v2h-2zM396 395h2v2h-2zM397 392h2v2h-2zM398 393h2v2h-2zM398 395h2v2h-2zM399 395h2v2h-2zM400 395h2v2h-2zM401 403h2v2h-2zM402 398h2v2h-2zM402 393h2v2h-2zM403 403h2v2h-2zM404 398h2v2h-2zM405 398h2v2h-2zM406 392h2v2h-2zM407 392h2v2h-2zM408 395h2v2h-2zM410 398h2v2h-2zM410 393h2v2h-2zM411 398h2v2h-2zM412 398h2v2h-2zM415 392h2v2h-2zM415 392h2v2h-2zM416 390h2v2h-2zM417 398h2v2h-2zM418 403h2v2h-2zM419 398h2v2h-2zM419 395h2v2h-2zM420 398h2v2h-2zM421 389h2v2h-2zM422 393h2v2h-2zM423 393h2v2h-2zM423 395h2v2h-2zM424 393h2v2h-2zM427 392h2v2h-2zM427 392h2v2h-2zM428 395h2v2h-2zM429 398h2v2h-2zM430 392h2v2h-2zM431 398h2v2h-2zM431 403h2v2h-2zM432 389h2v2h-2zM434 393h2v2h-2zM435 393h2v2h-2zM435 403h2v2h-2zM436 403h2v2h-2zM437 398h2v2h-2zM438 395h2v2h-2zM439 393h2v2h-2zM439 403h2v2h-2zM440 395h2v2h-2zM441 398h2v2h-2zM442 395h2v2h-2zM443 392h2v2h-2zM444 398h2v2h-2zM444 392h2v2h-2zM445 403h2v2h-2zM446 398h2v2h-2zM447 390h2v2h-2zM448 395h2v2h-2zM448 392h2v2h-2zM449 398h2v2h-2zM450 395h2v2h-2zM451 393h2v2h-2zM452 395h2v2h-2zM452 395h2v2h-2zM453 398h2v2h-2zM454 403h2v2h-2zM455 403h2v2h-2zM456 395h2v2h-2zM456 395h2v2h-2zM457 389h2v2h-2zM458 393h2v2h-2zM459 395h2v2h-2zM460 393h2v2h-2zM460 395h2v2h-2zM461 403h2v2h-2zM462 398h2v2h-2zM464 392h2v2h-2zM464 398h2v2h-2zM465 395h2v2h-2zM466 398h2v2h-2zM467 393h2v2h-2zM468 395h2v2h-2zM468 395h2v2h-2zM469 393h2v2h-2zM470 392h2v2h-2zM471 395h2v2h-2zM472 393h2v2h-2zM473 395h2v2h-2zM473 395h2v2h-2zM474 403h2v2h-2zM475 392h2v2h-2zM476 403h2v2h-2zM477 392h2v2h-2zM477 393h2v2h-2zM478 392h2v2h-2zM479 395h2v2h-2zM480 395h2v2h-2zM481 398h2v2h-2zM481 393h2v2h-2zM482 393h2v2h-2zM483 398h2v2h-2zM484 392h2v2h-2zM485 398h2v2h-2zM486 393h2v2h-2zM487 403h2v2h-2zM488 395h2v2h-2zM489 389h2v2h-2zM489 393h2v2h-2zM490 389h2v2h-2zM491 393h2v2h-2zM492 393h2v2h-2zM493 398h2v2h-2zM493 393h2v2h-2zM494 395h2v2h-2zM495 395h2v2h-2zM496 398h2v2h-2zM497 392h2v2h-2zM497 392h2v2h-2zM499 398h2v2h-2zM500 398h2v2h-2zM501 398h2v2h-2zM502 389h2v2h-2zM502 398h2v2h-2zM503 395h2v2h-2zM504 395h2v2h-2zM505 393h2v2h-2zM506 398h2v2h-2zM506 393h2v2h-2zM507 398h2v2h-2zM508 395h2v2h-2zM509 389h2v2h-2zM510 392h2v2h-2zM510 390h2v2h-2zM511 392h2v2h-2zM512 393h2v2h-2zM513 393h2v2h-2zM514 395h2v2h-2zM514 393h2v2h-2zM515 398h2v2h-2zM516 390h2v2h-2zM517 393h2v2h-2zM518 395h2v2h-2zM518 392h2v2h-2zM519 393h2v2h-2zM520 403h2v2h-2zM521 392h2v2h-2zM522 395h2v2h-2zM522 393h2v2h-2zM523 395h2v2h-2zM524 395h2v2h-2zM525 392h2v2h-2zM526 393h2v2h-2zM526 395h2v2h-2zM527 392h2v2h-2zM528 395h2v2h-2zM529 390h2v2h-2zM530 392h2v2h-2zM531 398h2v2h-2zM531 403h2v2h-2zM532 395h2v2h-2zM533 393h2v2h-2zM534 393h2v2h-2zM535 398h2v2h-2zM535 390h2v2h-2zM536 392h2v2h-2zM537 398h2v2h-2zM538 389h2v2h-2zM539 393h2v2h-2zM540 392h2v2h-2zM541 393h2v2h-2zM542 398h2v2h-2zM543 390h2v2h-2zM543 403h2v2h-2zM544 403h2v2h-2zM545 395h2v2h-2zM546 395h2v2h-2zM547 403h2v2h-2zM547 395h2v2h-2zM548 393h2v2h-2zM549 393h2v2h-2zM550 390h2v2h-2zM551 388h2v2h-2zM551 393h2v2h-2zM552 393h2v2h-2zM553 403h2v2h-2zM554 393h2v2h-2zM555 395h2v2h-2zM555 398h2v2h-2zM556 392h2v2h-2zM557 398h2v2h-2zM558 392h2v2h-2zM559 387h2v2h-2zM560 398h2v2h-2zM560 398h2v2h-2zM561 388h2v2h-2zM562 392h2v2h-2zM564 390h2v2h-2zM564 398h2v2h-2zM565 392h2v2h-2zM566 392h2v2h-2zM567 398h2v2h-2zM568 398h2v2h-2zM568 395h2v2h-2zM569 395h2v2h-2zM570 395h2v2h-2zM571 398h2v2h-2zM572 395h2v2h-2zM572 389h2v2h-2zM573 390h2v2h-2zM574 392h2v2h-2zM575 388h2v2h-2zM576 403h2v2h-2zM576 403h2v2h-2zM578 403h2v2h-2zM579 392h2v2h-2zM580 395h2v2h-2zM580 393h2v2h-2zM581 395h2v2h-2zM582 395h2v2h-2zM583 403h2v2h-2zM584 395h2v2h-2zM584 392h2v2h-2zM585 395h2v2h-2zM586 398h2v2h-2zM587 393h2v2h-2zM588 398h2v2h-2zM589 395h2v2h-2zM589 389h2v2h-2zM591 395h2v2h-2zM592 403h2v2h-2zM593 393h2v2h-2zM593 392h2v2h-2zM594 398h2v2h-2zM595 392h2v2h-2zM596 395h2v2h-2zM597 389h2v2h-2zM597 393h2v2h-2zM598 403h2v2h-2zM599 392h2v2h-2zM600 390h2v2h-2zM601 393h2v2h-2zM601 393h2v2h-2zM602 393h2v2h-2zM604 393h2v2h-2zM605 393h2v2h-2zM605 398h2v2h-2zM606 393h2v2h-2zM607 403h2v2h-2zM608 395h2v2h-2zM609 398h2v2h-2zM609 390h2v2h-2zM610 395h2v2h-2zM611 395h2v2h-2zM612 398h2v2h-2zM613 389h2v2h-2zM613 390h2v2h-2zM614 390h2v2h-2zM615 398h2v2h-2zM616 398h2v2h-2zM617 387h2v2h-2zM618 393h2v2h-2zM618 395h2v2h-2zM619 387h2v2h-2zM620 395h2v2h-2zM621 393h2v2h-2zM622 392h2v2h-2zM622 395h2v2h-2zM623 392h2v2h-2zM624 398h2v2h-2zM625 398h2v2h-2zM626 403h2v2h-2zM626 395h2v2h-2zM627 392h2v2h-2zM629 389h2v2h-2zM630 395h2v2h-2zM631 393h2v2h-2zM632 395h2v2h-2zM633 395h2v2h-2zM634 387h2v2h-2zM634 393h2v2h-2zM635 398h2v2h-2zM636 403h2v2h-2zM637 390h2v2h-2zM638 390h2v2h-2zM638 395h2v2h-2zM639 403h2v2h-2zM640 392h2v2h-2zM641 393h2v2h-2zM642 398h2v2h-2zM642 393h2v2h-2zM643 393h2v2h-2zM644 395h2v2h-2zM645 398h2v2h-2zM646 395h2v2h-2zM647 398h2v2h-2zM647 403h2v2h-2zM648 393h2v2h-2zM649 395h2v2h-2zM650 403h2v2h-2zM651 387h2v2h-2zM651 403h2v2h-2zM652 398h2v2h-2zM653 395h2v2h-2zM654 395h2v2h-2zM655 395h2v2h-2zM655 395h2v2h-2zM656 390h2v2h-2zM657 398h2v2h-2zM658 398h2v2h-2zM659 398h2v2h-2zM659 403h2v2h-2zM660 395h2v2h-2zM661 398h2v2h-2zM662 392h2v2h-2zM663 393h2v2h-2zM664 398h2v2h-2zM665 392h2v2h-2zM666 403h2v2h-2zM667 389h2v2h-2zM667 395h2v2h-2zM668 395h2v2h-2zM669 390h2v2h-2zM670 393h2v2h-2zM671 395h2v2h-2zM671 398h2v2h-2zM672 392h2v2h-2zM673 393h2v2h-2zM674 395h2v2h-2zM675 390h2v2h-2zM676 393h2v2h-2zM676 393h2v2h-2zM677 398h2v2h-2zM678 392h2v2h-2zM679 392h2v2h-2zM680 395h2v2h-2zM681 392h2v2h-2zM682 392h2v2h-2zM683 393h2v2h-2zM684 398h2v2h-2zM684 387h2v2h-2zM685 385h2v2h-2zM686 387h2v2h-2zM687 381h2v2h-2zM688 382h2v2h-2zM688 382h2v2h-2zM689 379h2v2h-2zM690 378h2v2h-2zM691 379h2v2h-2zM692 379h2v2h-2zM692 375h2v2h-2zM693 373h2v2h-2zM694 373h2v2h-2zM695 373h2v2h-2zM696 372h2v2h-2zM696 371h2v2h-2zM697 371h2v2h-2zM698 371h2v2h-2zM699 368h2v2h-2zM700 367h2v2h-2zM700 368h2v2h-2zM701 368h2v2h-2zM702 368h2v2h-2zM703 368h2v2h-2zM704 368h2v2h-2zM705 367h2v2h-2zM705 367h2v2h-2zM706 367h2v2h-2zM707 368h2v2h-2zM708 367h2v2h-2zM709 369h2v2h-2zM709 368h2v2h-2zM710 369h2v2h-2zM711 369h2v2h-2zM712 370h2v2h-2zM713 369h2v2h-2zM713 369h2v2h-2zM714 372h2v2h-2zM715 373h2v2h-2zM716 376h2v2h-2zM717 376h2v2h-2zM717 378h2v2h-2zM718 377h2v2h-2zM719 376h2v2h-2zM720 378h2v2h-2zM721 380h2v2h-2zM721 381h2v2h-2zM722 380h2v2h-2zM723 387h2v2h-2zM724 386h2v2h-2zM725 382h2v2h-2zM725 382h2v2h-2zM726 382h2v2h-2zM727 383h2v2h-2zM728 384h2v2h-2zM729 387h2v2h-2zM729 385h2v2h-2zM730 385h2v2h-2zM731 386h2v2h-2zM732 385h2v2h-2zM733 384h2v2h-2zM734 382h2v2h-2zM734 382h2v2h-2zM735 380h2v2h-2zM736 386h2v2h-2zM737 381h2v2h-2zM738 381h2v2h-2zM738 382h2v2h-2zM739 387h2v2h-2zM740 384h2v2h-2zM741 384h2v2h-2zM742 385h2v2h-2zM742 380h2v2h-2zM743 382h2v2h-2zM744 382h2v2h-2zM745 384h2v2h-2zM746 378h2v2h-2zM746 380h2v2h-2zM747 378h2v2h-2zM748 377h2v2h-2zM749 381h2v2h-2zM750 378h2v2h-2zM750 379h2v2h-2zM751 378h2v2h-2zM752 380h2v2h-2zM753 376h2v2h-2zM754 377h2v2h-2zM754 378h2v2h-2zM755 377h2v2h-2zM756 376h2v2h-2zM757 376h2v2h-2zM758 375h2v2h-2zM758 376h2v2h-2zM759 375h2v2h-2zM760 375h2v2h-2zM761 376h2v2h-2zM762 374h2v2h-2zM763 374h2v2h-2zM763 375h2v2h-2zM764 373h2v2h-2zM765 374h2v2h-2zM766 373h2v2h-2zM767 373h2v2h-2zM767 373h2v2h-2zM768 372h2v2h-2zM769 371h2v2h-2zM770 373h2v2h-2zM771 373h2v2h-2zM771 373h2v2h-2zM772 373h2v2h-2zM773 373h2v2h-2zM774 375h2v2h-2zM775 374h2v2h-2z"/>
<path fill="#ff0000" d="M80 401h2v1h-2zM81 397h2v2h-2zM82 401h2v1h-2zM83 405h2v2h-2zM83 405h2v2h-2zM84 405h2v2h-2zM86 394h2v2h-2zM87 405h2v2h-2zM87 405h2v2h-2zM88 405h2v2h-2zM89 401h2v1h-2zM91 405h2v2h-2zM92 405h2v2h-2zM93 405h2v2h-2zM94 405h2v2h-2zM95 397h2v2h-2zM96 401h2v1h-2zM98 405h2v2h-2zM99 405h2v2h-2zM101 395h2v2h-2zM102 395h2v2h-2zM104 405h2v2h-2zM104 405h2v2h-2zM108 391h2v2h-2zM109 405h2v2h-2zM111 405h2v2h-2zM112 397h2v2h-2zM113 401h2v1h-2zM114 397h2v2h-2zM116 405h2v2h-2zM116 397h2v2h-2zM117 405h2v2h-2zM118 405h2v2h-2zM120 401h2v1h-2zM120 397h2v2h-2zM124 405h2v2h-2zM126 405h2v2h-2zM129 397h2v2h-2zM130 401h2v1h-2zM132 401h2v1h-2zM134 401h2v1h-2zM137 405h2v2h-2zM137 401h2v1h-2zM138 405h2v2h-2zM139 405h2v2h-2zM141 397h2v2h-2zM142 405h2v2h-2zM145 397h2v2h-2zM145 405h2v2h-2zM146 405h2v2h-2zM149 405h2v2h-2zM149 401h2v1h-2zM152 405h2v2h-2zM154 401h2v1h-2zM154 405h2v2h-2zM156 401h2v1h-2zM157 394h2v2h-2zM158 405h2v2h-2zM159 405h2v2h-2zM161 405h2v2h-2zM166 401h2v1h-2zM167 395h2v2h-2zM168 405h2v2h-2zM169 405h2v2h-2zM170 405h2v2h-2zM171 405h2v2h-2zM173 397h2v2h-2zM174 405h2v2h-2zM174 405h2v2h-2zM175 401h2v1h-2zM178 405h2v2h-2zM178 405h2v2h-2zM179 397h2v2h-2zM180 401h2v1h-2zM183 405h2v2h-2zM183 405h2v2h-2zM184 395h2v2h-2zM185 405h2v2h-2zM187 405h2v2h-2zM190 401h2v1h-2zM191 401h2v1h-2zM193 401h2v1h-2zM194 405h2v2h-2zM197 405h2v2h-2zM198 401h2v1h-2zM199 405h2v2h-2zM200 405h2v2h-2zM202 405h2v2h-2zM203 405h2v2h-2zM204 405h2v2h-2zM205 401h2v1h-2zM207 401h2v1h-2zM208 397h2v2h-2zM209 405h2v2h-2zM210 401h2v1h-2zM211 397h2v2h-2zM212 401h2v1h-2zM212 405h2v2h-2zM213 401h2v1h-2zM214 405h2v2h-2zM215 405h2v2h-2zM216 401h2v1h-2zM217 405h2v2h-2zM218 405h2v2h-2zM220 397h2v2h-2zM221 405h2v2h-2zM223 405h2v2h-2zM226 401h2v1h-2zM228 405h2v2h-2zM229 397h2v2h-2zM230 397h2v2h-2zM231 401h2v1h-2zM232 405h2v2h-2zM233 401h2v1h-2zM237 394h2v2h-2zM239 405h2v2h-2zM240 405h2v2h-2zM241 395h2v2h-2zM241 397h2v2h-2zM249 401h2v1h-2zM249 405h2v2h-2zM250 405h2v2h-2zM253 397h2v2h-2zM253 405h2v2h-2zM254 405h2v2h-2zM255 401h2v1h-2zM256 405h2v2h-2zM257 401h2v1h-2zM258 405h2v2h-2zM260 397h2v2h-2zM261 395h2v2h-2zM262 397h2v2h-2zM265 401h2v1h-2zM265 397h2v2h-2zM266 401h2v1h-2zM267 405h2v2h-2zM268 397h2v2h-2zM269 397h2v2h-2zM270 401h2v1h-2zM271 401h2v1h-2zM272 397h2v2h-2zM273 405h2v2h-2zM274 401h2v1h-2zM274 397h2v2h-2zM278 401h2v1h-2zM278 397h2v2h-2zM279 397h2v2h-2zM280 405h2v2h-2zM281 405h2v2h-2zM282 397h2v2h-2zM284 405h2v2h-2zM285 405h2v2h-2zM286 401h2v1h-2zM288 405h2v2h-2zM289 405h2v2h-2zM291 397h2v2h-2zM293 401h2v1h-2zM294 401h2v1h-2zM295 405h2v2h-2zM299 401h2v1h-2zM299 401h2v1h-2zM300 401h2v1h-2zM301 401h2v1h-2zM303 405h2v2h-2zM304 405h2v2h-2zM305 391h2v2h-2zM306 401h2v1h-2zM307 401h2v1h-2zM307 401h2v1h-2zM309 405h2v2h-2zM311 397h2v2h-2zM311 401h2v1h-2zM312 401h2v1h-2zM315 401h2v1h-2zM317 405h2v2h-2zM318 401h2v1h-2zM320 397h2v2h-2zM321 401h2v1h-2zM323 405h2v2h-2zM324 401h2v1h-2zM325 401h2v1h-2zM327 405h2v2h-2zM328 405h2v2h-2zM329 405h2v2h-2zM333 397h2v2h-2zM335 395h2v2h-2zM336 405h2v2h-2zM336 405h2v2h-2zM339 401h2v1h-2zM341 405h2v2h-2zM342 405h2v2h-2zM343 401h2v1h-2zM344 395h2v2h-2zM344 397h2v2h-2zM347 405h2v2h-2zM348 405h2v2h-2zM349 401h2v1h-2zM352 401h2v1h-2zM353 401h2v1h-2zM354 405h2v2h-2zM356 405h2v2h-2zM357 405h2v2h-2zM360 401h2v1h-2zM361 401h2v1h-2zM362 405h2v2h-2zM365 395h2v2h-2zM365 401h2v1h-2zM366 405h2v2h-2zM368 397h2v2h-2zM369 397h2v2h-2zM369 394h2v2h-2zM371 405h2v2h-2zM373 401h2v1h-2zM374 405h2v2h-2zM376 394h2v2h-2zM377 405h2v2h-2zM377 401h2v1h-2zM378 405h2v2h-2zM379 394h2v2h-2zM380 401h2v1h-2zM381 405h2v2h-2zM381 405h2v2h-2zM382 405h2v2h-2zM385 405h2v2h-2zM386 401h2v1h-2zM386 401h2v1h-2zM387 405h2v2h-2zM388 405h2v2h-2zM389 405h2v2h-2zM390 401h2v1h-2zM390 401h2v1h-2zM391 405h2v2h-2zM393 405h2v2h-2zM394 401h2v1h-2zM395 405h2v2h-2zM397 405h2v2h-2zM398 395h2v2h-2zM400 405h2v2h-2zM402 405h2v2h-2zM402 397h2v2h-2zM403 401h2v1h-2zM404 405h2v2h-2zM405 401h2v1h-2zM406 397h2v2h-2zM406 397h2v2h-2zM411 405h2v2h-2zM412 405h2v2h-2zM413 395h2v2h-2zM414 405h2v2h-2zM415 397h2v2h-2zM416 405h2v2h-2zM417 397h2v2h-2zM418 395h2v2h-2zM419 405h2v2h-2zM419 405h2v2h-2zM422 405h2v2h-2zM423 401h2v1h-2zM424 401h2v1h-2zM426 405h2v2h-2zM429 397h2v2h-2zM430 405h2v2h-2zM432 401h2v1h-2zM434 405h2v2h-2zM436 401h2v1h-2zM439 397h2v2h-2zM439 405h2v2h-2zM440 405h2v2h-2zM443 401h2v1h-2zM444 401h2v1h-2zM446 405h2v2h-2zM448 397h2v2h-2zM448 405h2v2h-2zM450 405h2v2h-2zM451 395h2v2h-2zM454 405h2v2h-2zM456 401h2v1h-2zM457 405h2v2h-2zM458 401h2v1h-2zM459 397h2v2h-2zM462 401h2v1h-2zM463 401h2v1h-2zM464 401h2v1h-2zM464 401h2v1h-2zM465 401h2v1h-2zM468 401h2v1h-2zM470 401h2v1h-2zM472 401h2v1h-2zM473 401h2v1h-2zM473 401h2v1h-2zM476 405h2v2h-2zM477 405h2v2h-2zM478 405h2v2h-2zM479 397h2v2h-2zM481 397h2v2h-2zM482 395h2v2h-2zM485 405h2v2h-2zM486 401h2v1h-2zM487 405h2v2h-2zM489 405h2v2h-2zM490 401h2v1h-2zM491 405h2v2h-2zM492 405h2v2h-2zM493 405h2v2h-2zM493 397h2v2h-2zM495 405h2v2h-2zM497 395h2v2h-2zM497 397h2v2h-2zM498 405h2v2h-2zM499 405h2v2h-2zM502 405h2v2h-2zM502 401h2v1h-2zM503 395h2v2h-2zM505 397h2v2h-2zM506 405h2v2h-2zM507 397h2v2h-2zM508 397h2v2h-2zM509 405h2v2h-2zM510 401h2v1h-2zM510 405h2v2h-2zM511 401h2v1h-2zM512 405h2v2h-2zM514 405h2v2h-2zM514 401h2v1h-2zM515 397h2v2h-2zM517 401h2v1h-2zM518 401h2v1h-2zM520 397h2v2h-2zM522 405h2v2h-2zM525 397h2v2h-2zM531 405h2v2h-2zM531 401h2v1h-2zM533 401h2v1h-2zM535 397h2v2h-2zM535 405h2v2h-2zM537 405h2v2h-2zM541 395h2v2h-2zM542 405h2v2h-2zM543 405h2v2h-2zM544 397h2v2h-2zM548 397h2v2h-2zM550 405h2v2h-2zM552 405h2v2h-2zM554 397h2v2h-2zM555 405h2v2h-2zM557 401h2v1h-2zM558 401h2v1h-2zM559 401h2v1h-2zM560 405h2v2h-2zM560 395h2v2h-2zM561 401h2v1h-2zM562 397h2v2h-2zM564 405h2v2h-2zM566 405h2v2h-2zM567 401h2v1h-2zM568 405h2v2h-2zM569 405h2v2h-2zM571 405h2v2h-2zM572 401h2v1h-2zM572 405h2v2h-2zM573 401h2v1h-2zM574 405h2v2h-2zM575 401h2v1h-2zM576 401h2v1h-2zM576 405h2v2h-2zM577 405h2v2h-2zM578 401h2v1h-2zM580 405h2v2h-2zM580 395h2v2h-2zM583 401h2v1h-2zM584 401h2v1h-2zM586 405h2v2h-2zM589 401h2v1h-2zM592 401h2v1h-2zM593 405h2v2h-2zM593 401h2v1h-2zM594 405h2v2h-2zM598 401h2v1h-2zM600 401h2v1h-2zM601 405h2v2h-2zM601 401h2v1h-2zM602 397h2v2h-2zM605 401h2v1h-2zM606 405h2v2h-2zM608 401h2v1h-2zM609 397h2v2h-2zM609 401h2v1h-2zM610 405h2v2h-2zM611 401h2v1h-2zM613 401h2v1h-2zM613 405h2v2h-2zM616 401h2v1h-2zM617 405h2v2h-2zM618 397h2v2h-2zM621 401h2v1h-2zM622 405h2v2h-2zM624 405h2v2h-2zM625 401h2v1h-2zM626 401h2v1h-2zM626 401h2v1h-2zM628 401h2v1h-2zM630 401h2v1h-2zM633 395h2v2h-2zM634 401h2v1h-2zM637 397h2v2h-2zM638 405h2v2h-2zM641 401h2v1h-2zM642 401h2v1h-2zM644 397h2v2h-2zM645 397h2v2h-2zM646 405h2v2h-2zM649 395h2v2h-2zM651 405h2v2h-2zM652 401h2v1h-2zM654 405h2v2h-2zM655 401h2v1h-2zM656 401h2v1h-2zM657 405h2v2h-2zM659 401h2v1h-2zM663 395h2v2h-2zM665 405h2v2h-2zM666 405h2v2h-2zM667 405h2v2h-2zM671 405h2v2h-2zM673 405h2v2h-2zM674 397h2v2h-2zM679 397h2v2h-2zM680 401h2v1h-2zM681 405h2v2h-2zM682 401h2v1h-2zM683 405h2v2h-2zM684 405h2v2h-2zM688 405h2v2h-2zM690 401h2v1h-2zM692 401h2v1h-2zM692 405h2v2h-2zM698 405h2v2h-2zM699 405h2v2h-2zM700 401h2v1h-2zM701 406h2v1h-2zM702 397h2v2h-2zM703 397h2v2h-2zM704 397h2v2h-2zM705 397h2v2h-2zM705 401h2v1h-2zM707 397h2v2h-2zM712 406h2v1h-2zM713 397h2v2h-2zM717 406h2v1h-2zM719 397h2v2h-2zM720 406h2v1h-2zM721 406h2v1h-2zM722 401h2v1h-2zM723 406h2v1h-2zM724 401h2v1h-2zM725 397h2v2h-2zM726 397h2v2h-2zM728 401h2v1h-2zM729 406h2v1h-2zM730 406h2v1h-2zM731 401h2v1h-2zM734 397h2v2h-2zM734 401h2v1h-2zM735 406h2v1h-2zM736 406h2v1h-2zM737 406h2v1h-2zM738 395h2v2h-2zM739 401h2v1h-2zM741 406h2v1h-2zM742 395h2v2h-2zM744 397h2v2h-2zM746 401h2v1h-2zM747 401h2v1h-2zM749 397h2v2h-2zM750 406h2v1h-2zM750 397h2v2h-2zM751 395h2v2h-2zM753 406h2v1h-2zM754 401h2v1h-2zM754 397h2v2h-2zM757 401h2v1h-2zM758 397h2v2h-2zM759 406h2v1h-2zM762 401h2v1h-2zM763 394h2v2h-2zM764 401h2v1h-2zM765 395h2v2h-2zM766 406h2v1h-2zM767 401h2v1h-2zM767 397h2v2h-2zM768 395h2v2h-2zM769 401h2v1h-2zM770 401h2v1h-2zM773 401h2v1h-2zM774 395h2v2h-2z"/>
<path fill="#000" d="M92 590h2v2h-2zM96 590h2v2h-2zM99 590h2v2h-2zM101 590h2v2h-2zM104 590h2v2h-2zM107 590h2v2h-2zM109 590h2v2h-2zM111 590h2v2h-2zM112 590h2v2h-2zM114 590h2v2h-2zM116 590h2v2h-2zM118 590h2v2h-2zM122 590h2v2h-2zM127 590h2v2h-2zM129 590h2v2h-2zM94 582h2v2h-2zM96 582h2v2h-2zM101 582h2v2h-2zM107 582h2v2h-2zM108 582h2v2h-2zM113 582h2v2h-2zM115 582h2v2h-2zM122 582h2v2h-2zM127 582h2v2h-2zM88 575h2v2h-2zM92 572h2v2h-2zM94 578h2v2h-2zM97 575h2v2h-2zM100 578h2v2h-2zM104 578h2v2h-2zM108 578h2v2h-2zM118 575h2v2h-2zM119 572h2v2h-2zM126 578h2v2h-2zM82 582h4v2h-4zM131 590h2v2h-2zM132 590h2v2h-2zM137 590h2v2h-2zM138 590h2v2h-2zM141 590h2v2h-2zM143 590h2v2h-2zM145 590h2v2h-2zM146 590h2v2h-2zM149 590h2v2h-2zM152 590h2v2h-2zM155 590h2v2h-2zM157 590h2v2h-2zM160 590h2v2h-2zM165 590h2v2h-2zM171 590h2v2h-2zM172 590h2v2h-2zM175 590h2v2h-2zM177 590h2v2h-2zM179 590h2v2h-2zM181 590h2v2h-2zM187 590h2v2h-2zM188 590h2v2h-2zM193 590h2v2h-2zM194 590h2v2h-2zM200 590h2v2h-2zM204 590h2v2h-2zM218 590h2v2h-2zM225 590h2v2h-2zM229 590h2v2h-2zM232 590h2v2h-2zM234 590h2v2h-2zM236 590h2v2h-2zM238 590h2v2h-2zM242 590h2v2h-2zM247 590h2v2h-2zM255 590h2v2h-2zM257 590h2v2h-2zM259 590h2v2h-2zM261 590h2v2h-2zM263 590h2v2h-2zM267 590h2v2h-2zM275 590h2v2h-2zM277 590h2v2h-2zM278 590h2v2h-2zM140 582h2v2h-2zM143 582h2v2h-2zM147 582h2v2h-2zM163 582h2v2h-2zM167 582h2v2h-2zM207 582h2v2h-2zM230 582h2v2h-2zM265 582h2v2h-2zM142 578h2v2h-2zM212 578h2v2h-2zM213 578h2v2h-2zM280 590h2v2h-2zM283 590h2v2h-2zM284 590h2v2h-2zM286 590h2v2h-2zM292 590h2v2h-2zM306 590h2v2h-2zM310 590h2v2h-2zM313 590h2v2h-2zM317 590h2v2h-2zM324 590h2v2h-2zM327 590h2v2h-2zM328 590h2v2h-2zM335 590h2v2h-2zM347 590h2v2h-2zM348 590h2v2h-2zM351 590h2v2h-2zM359 590h2v2h-2zM366 590h2v2h-2zM368 590h2v2h-2zM371 590h2v2h-2zM373 590h2v2h-2zM374 590h2v2h-2zM379 590h2v2h-2zM380 590h2v2h-2zM383 590h2v2h-2zM384 590h2v2h-2zM386 590h2v2h-2zM391 590h2v2h-2zM395 590h2v2h-2zM401 590h2v2h-2zM404 590h2v2h-2zM407 590h2v2h-2zM409 590h2v2h-2zM410 590h2v2h-2zM412 590h2v2h-2zM419 590h2v2h-2zM422 590h2v2h-2zM432 590h2v2h-2zM435 590h2v2h-2zM446 590h2v2h-2zM458 590h2v2h-2zM462 590h2v2h-2zM478 590h2v2h-2zM325 582h2v2h-2zM345 582h1v2h-1zM484 590h2v2h-2zM487 590h2v2h-2zM491 590h2v2h-2zM499 590h2v2h-2zM502 590h2v2h-2zM505 590h2v2h-2zM507 590h2v2h-2zM508 590h2v2h-2zM512 590h2v2h-2zM516 590h2v2h-2zM518 590h2v2h-2zM521 590h2v2h-2zM525 590h2v2h-2zM528 590h2v2h-2zM533 590h2v2h-2zM534 590h2v2h-2zM536 590h2v2h-2zM538 590h2v2h-2zM540 590h2v2h-2zM543 590h2v2h-2zM547 590h2v2h-2zM548 590h2v2h-2zM550 590h2v2h-2zM552 590h2v2h-2zM557 590h2v2h-2zM559 590h2v2h-2zM561 590h2v2h-2zM562 590h2v2h-2zM570 590h2v2h-2zM574 590h2v2h-2zM580 590h2v2h-2zM582 590h2v2h-2zM585 590h2v2h-2zM586 590h2v2h-2zM591 590h2v2h-2zM593 590h2v2h-2zM600 590h2v2h-2zM605 590h2v2h-2zM607 590h2v2h-2zM608 590h2v2h-2zM611 590h2v2h-2zM612 590h2v2h-2zM616 590h2v2h-2zM618 590h2v2h-2zM621 590h2v2h-2zM622 590h2v2h-2zM624 590h2v2h-2zM628 590h2v2h-2zM631 590h2v2h-2zM632 590h2v2h-2zM636 590h2v2h-2zM640 590h2v2h-2zM646 590h2v2h-2zM649 590h2v2h-2zM650 590h2v2h-2zM652 590h2v2h-2zM654 590h2v2h-2zM659 590h2v2h-2zM660 590h2v2h-2zM663 590h2v2h-2zM664 590h2v2h-2zM666 590h2v2h-2zM669 590h2v2h-2zM674 590h2v2h-2zM678 590h2v2h-2zM680 590h2v2h-2zM692 590h2v2h-2zM695 590h2v2h-2zM696 590h2v2h-2zM698 590h2v2h-2zM701 590h2v2h-2zM705 590h2v2h-2zM707 590h2v2h-2zM708 590h2v2h-2zM710 590h2v2h-2zM713 590h2v2h-2zM717 590h2v2h-2zM718 590h2v2h-2zM720 590h2v2h-2zM722 590h2v2h-2zM725 590h2v2h-2zM728 590h2v2h-2zM730 590h2v2h-2zM732 590h2v2h-2zM734 590h2v2h-2zM736 590h2v2h-2zM738 590h2v2h-2zM745 590h2v2h-2zM488 582h2v2h-2zM494 582h2v2h-2zM495 582h2v2h-2zM499 582h2v2h-2zM507 582h2v2h-2zM510 582h2v2h-2zM526 582h2v2h-2zM527 582h2v2h-2zM531 582h2v2h-2zM540 582h2v2h-2zM546 582h2v2h-2zM548 582h2v2h-2zM550 582h2v2h-2zM556 582h2v2h-2zM560 582h2v2h-2zM572 582h2v2h-2zM573 582h2v2h-2zM579 582h2v2h-2zM584 582h2v2h-2zM586 582h2v2h-2zM589 582h2v2h-2zM591 582h2v2h-2zM593 582h2v2h-2zM595 582h2v2h-2zM604 582h2v2h-2zM605 582h2v2h-2zM607 582h2v2h-2zM611 582h2v2h-2zM615 582h2v2h-2zM626 582h2v2h-2zM627 582h2v2h-2zM630 582h2v2h-2zM633 582h2v2h-2zM635 582h2v2h-2zM642 582h2v2h-2zM644 582h2v2h-2zM647 582h2v2h-2zM652 582h2v2h-2zM654 582h2v2h-2zM655 582h2v2h-2zM661 582h2v2h-2zM664 582h2v2h-2zM665 582h2v2h-2zM668 582h2v2h-2zM679 582h2v2h-2zM684 582h2v2h-2zM687 582h2v2h-2zM690 582h2v2h-2zM695 582h2v2h-2zM701 582h2v2h-2zM711 582h2v2h-2zM713 582h2v2h-2zM718 582h2v2h-2zM720 582h2v2h-2zM722 582h2v2h-2zM724 582h2v2h-2zM726 582h2v2h-2zM728 582h2v2h-2zM731 582h2v2h-2zM736 582h2v2h-2zM737 582h2v2h-2zM740 582h2v2h-2zM741 582h2v2h-2zM749 582h2v2h-2zM756 582h2v2h-2zM499 578h2v2h-2zM518 578h2v2h-2zM521 578h2v2h-2zM531 578h2v2h-2zM534 578h2v2h-2zM542 578h2v2h-2zM546 578h2v2h-2zM548 578h2v2h-2zM551 578h2v2h-2zM554 578h2v2h-2zM556 578h2v2h-2zM559 578h2v2h-2zM583 578h2v2h-2zM587 578h2v2h-2zM600 578h2v2h-2zM603 578h2v2h-2zM606 578h2v2h-2zM608 578h2v2h-2zM612 578h2v2h-2zM615 578h2v2h-2zM633 578h2v2h-2zM636 578h2v2h-2zM639 578h2v2h-2zM642 578h2v2h-2zM645 578h2v2h-2zM646 578h2v2h-2zM656 578h2v2h-2zM660 578h2v2h-2zM666 578h2v2h-2zM672 578h2v2h-2zM679 578h2v2h-2zM688 578h2v2h-2zM691 578h2v2h-2zM696 578h2v2h-2zM698 578h2v2h-2zM701 578h2v2h-2zM711 578h2v2h-2zM718 578h2v2h-2zM727 578h2v2h-2zM730 578h2v2h-2zM736 578h2v2h-2zM744 578h2v2h-2zM750 578h2v2h-2zM753 578h2v2h-2zM528 574h2v2h-2zM531 574h2v2h-2zM534 574h2v2h-2zM540 574h2v2h-2zM558 574h2v2h-2zM575 574h2v2h-2zM582 574h2v2h-2zM619 574h2v2h-2zM622 574h2v2h-2zM624 574h2v2h-2zM660 574h2v2h-2zM668 574h2v2h-2zM698 574h2v2h-2zM716 574h2v2h-2zM719 574h2v2h-2zM642 572h2v2h-2zM661 572h2v2h-2zM669 572h2v2h-2zM694 572h2v2h-2zM724 572h2v2h-2zM739 572h2v2h-2zM537 569h2v2h-2zM547 571h2v2h-2zM584 572h2v2h-2zM590 571h2v2h-2zM596 571h2v2h-2zM615 571h2v2h-2zM624 569h2v2h-2zM629 567h2v2h-2zM637 570h2v2h-2zM655 571h2v2h-2zM660 571h2v2h-2zM671 573h2v2h-2zM705 571h2v2h-2zM722 570h2v2h-2zM737 571h2v2h-2zM748 572h2v2h-2zM755 570h2v2h-2zM757 572h2v2h-2zM759 569h2v2h-2zM761 574h2v2h-2zM763 571h2v2h-2zM765 575h2v2h-2zM757 575h2v2h-2zM767 571h2v2h-2zM766 563h2v2h-2zM768 564h2v2h-2zM770 565h2v2h-2zM767 559h2v2h-2zM772 573h2v2h-2zM774 572h2v2h-2zM772 576h2v2h-2zM774 570h2v2h-2zM771 578h2v2h-2zM775 575h2v2h-2z"/>
<path fill="#0000ff" d="M100 607h2v2h-2zM122 607h2v2h-2zM135 607h2v2h-2zM168 607h2v2h-2zM222 607h2v2h-2zM225 607h2v2h-2zM258 607h2v2h-2zM262 607h2v2h-2zM275 607h2v2h-2zM308 607h2v2h-2zM328 607h2v2h-2zM333 607h2v2h-2zM348 607h2v2h-2zM363 607h2v2h-2zM377 607h2v2h-2zM382 607h2v2h-2zM395 607h2v2h-2zM418 607h2v2h-2zM433 607h2v2h-2zM484 607h2v2h-2zM488 607h2v2h-2zM496 607h2v2h-2zM498 607h2v2h-2zM514 607h2v2h-2zM516 607h2v2h-2zM524 607h2v2h-2zM528 607h2v2h-2zM532 607h2v2h-2zM538 607h2v2h-2zM542 607h2v2h-2zM544 607h2v2h-2zM546 607h2v2h-2zM548 607h2v2h-2zM554 607h2v2h-2zM556 607h2v2h-2zM560 607h2v2h-2zM566 607h2v2h-2zM570 607h2v2h-2zM572 607h2v2h-2zM594 607h2v2h-2zM600 607h2v2h-2zM602 607h2v2h-2zM610 607h2v2h-2zM614 607h2v2h-2zM620 607h2v2h-2zM630 607h2v2h-2zM638 607h2v2h-2zM640 607h2v2h-2zM644 607h2v2h-2zM654 607h2v2h-2zM656 607h2v2h-2zM658 607h2v2h-2zM664 607h2v2h-2zM666 607h2v2h-2zM670 607h2v2h-2zM672 607h2v2h-2zM676 607h2v2h-2zM686 607h2v2h-2zM694 607h2v2h-2zM698 607h2v2h-2zM700 607h2v2h-2zM704 607h2v2h-2zM708 607h2v2h-2zM716 607h2v2h-2zM720 607h2v2h-2zM729 607h2v2h-2zM740 607h2v2h-2zM745 607h2v2h-2zM750 607h2v2h-2zM755 607h2v2h-2zM760 607h2v2h-2zM764 607h2v2h-2zM768 607h2v2h-2zM538 599h2v2h-2zM540 599h2v2h-2zM558 599h2v2h-2zM583 599h2v2h-2zM585 599h2v2h-2zM625 599h2v2h-2zM627 599h2v2h-2zM648 599h2v2h-2zM651 599h2v2h-2zM663 599h2v2h-2zM665 599h2v2h-2zM687 599h2v2h-2zM693 599h2v2h-2zM704 599h2v2h-2zM773 599h2v2h-2zM769 591h2v2h-2z"/>
<path fill="#ff0000" d="M92 607h2v2h-2zM97 607h2v2h-2zM126 607h2v2h-2zM325 607h2v2h-2zM371 607h2v2h-2zM374 607h2v2h-2zM381 607h2v2h-2zM416 607h2v2h-2zM479 607h2v2h-2zM486 607h2v2h-2zM490 607h2v2h-2zM492 607h2v2h-2zM494 607h2v2h-2zM502 607h2v2h-2zM508 607h2v2h-2zM510 607h2v2h-2zM512 607h2v2h-2zM522 607h2v2h-2zM526 607h2v2h-2zM530 607h2v2h-2zM540 607h2v2h-2zM550 607h2v2h-2zM552 607h2v2h-2zM558 607h2v2h-2zM562 607h2v2h-2zM564 607h2v2h-2zM574 607h2v2h-2zM582 607h2v2h-2zM584 607h2v2h-2zM588 607h2v2h-2zM592 607h2v2h-2zM598 607h2v2h-2zM604 607h2v2h-2zM606 607h2v2h-2zM608 607h2v2h-2zM622 607h2v2h-2zM624 607h2v2h-2zM626 607h2v2h-2zM634 607h2v2h-2zM636 607h2v2h-2zM650 607h2v2h-2zM652 607h2v2h-2zM660 607h2v2h-2zM668 607h2v2h-2zM674 607h2v2h-2zM682 607h2v2h-2zM684 607h2v2h-2zM688 607h2v2h-2zM692 607h2v2h-2zM696 607h2v2h-2zM702 607h2v2h-2zM706 607h2v2h-2zM710 607h2v2h-2zM712 607h2v2h-2zM714 607h2v2h-2zM718 607h2v2h-2zM738 607h2v2h-2zM742 607h2v2h-2zM762 607h2v2h-2zM766 607h2v2h-2zM770 607h2v2h-2zM523 599h2v2h-2zM577 599h2v2h-2zM600 599h2v2h-2zM634 599h2v2h-2zM652 599h2v2h-2zM682 599h2v2h-2zM706 599h2v2h-2zM714 599h2v2h-2zM775 599h2v2h-2zM765 595h3v1h-3z"/>
<path fill="#000" d="M134 828h2v1h-2zM194 828h2v1h-2zM199 828h2v1h-2zM209 828h2v1h-2zM258 828h2v1h-2zM278 828h2v1h-2zM342 828h2v1h-2zM359 828h2v1h-2zM458 828h2v1h-2zM480 828h2v1h-2zM486 828h2v1h-2zM492 828h2v1h-2zM545 828h2v1h-2zM589 828h2v1h-2zM599 828h2v1h-2zM623 828h2v1h-2zM656 828h2v1h-2zM683 828h2v1h-2zM723 828h2v1h-2zM727 828h2v1h-2zM740 828h2v1h-2zM748 828h2v1h-2zM374 828h4v1h-4zM505 828h4v1h-4zM610 828h3v1h-3zM746 828h3v1h-3zM684 821h2v2h-2zM685 817h2v2h-2zM686 810h2v2h-2zM688 812h2v2h-2zM689 804h2v2h-2zM689 800h2v2h-2zM691 798h2v2h-2zM692 797h2v2h-2zM696 796h2v2h-2zM710 798h2v2h-2zM709 801h2v2h-2zM708 805h2v2h-2zM719 804h2v2h-2zM714 807h2v2h-2zM717 810h2v2h-2zM713 812h2v2h-2zM715 814h2v2h-2zM718 814h2v2h-2zM721 811h2v2h-2zM720 817h2v2h-2zM722 821h2v2h-2zM724 821h2v2h-2zM726 821h2v2h-2zM728 812h2v2h-2zM728 814h2v2h-2zM730 821h2v2h-2zM732 821h2v2h-2zM734 821h2v2h-2zM736 821h2v2h-2zM734 817h2v2h-2zM736 817h2v2h-2zM740 814h2v2h-2zM742 812h2v2h-2zM740 817h2v2h-2zM742 817h2v2h-2zM744 817h2v2h-2zM746 817h2v2h-2zM748 817h2v2h-2zM741 821h2v2h-2zM747 821h2v2h-2zM750 821h2v2h-2zM752 821h2v2h-2zM754 821h2v2h-2zM749 810h2v2h-2zM752 814h2v2h-2zM756 809h2v2h-2zM758 811h2v2h-2zM760 809h2v2h-2zM762 810h2v2h-2zM760 817h2v2h-2zM762 817h2v2h-2zM764 817h2v2h-2zM762 814h2v2h-2zM767 814h2v2h-2zM771 814h2v2h-2zM764 821h2v2h-2zM768 809h2v2h-2zM772 817h2v2h-2zM755 814h2v2h-2zM711 803h2v2h-2zM710 808h2v2h-2zM691 798h2v2h-2zM692 800h2v2h-2zM693 796h2v2h-2zM694 799h2v2h-2zM695 801h2v2h-2zM696 797h2v2h-2zM697 798h2v2h-2zM698 800h2v2h-2zM699 803h2v2h-2zM700 797h2v2h-2zM701 799h2v2h-2zM702 797h2v2h-2zM703 798h2v2h-2zM704 800h2v2h-2zM705 799h2v2h-2zM706 801h2v2h-2zM707 799h2v2h-2zM708 801h2v2h-2zM709 802h2v2h-2zM768 806h8v2h-8zM760 809h2v2h-2zM756 809h2v2h-2zM758 814h2v2h-2zM766 810h2v2h-2zM745 810h2v2h-2zM758 814h2v2h-2zM746 810h2v2h-2zM758 817h2v2h-2zM754 817h2v2h-2zM756 817h2v2h-2zM753 817h2v2h-2zM747 812h2v2h-2zM764 810h2v2h-2zM772 817h2v2h-2z"/>
<path fill="#0000ff" d="M698 848h2v2h-2zM706 848h2v2h-2zM708 848h2v2h-2zM751 848h2v2h-2zM765 848h2v2h-2zM497 848h2v2h-2zM712 848h1v2h-1zM714 848h1v2h-1zM690 828h3v1h-3z"/>
<path fill="#ff0000" d="M688 828h2v1h-2zM731 828h3v1h-3zM432 848h1v2h-1z"/>
<path fill="#000" d="M80 23h697v1h-697zM80 203h697v1h-697zM80 23h1v181h-1zM776 23h1v181h-1zM138 23h1v3h-1zM138 201h1v3h-1zM196 23h1v3h-1zM196 201h1v3h-1zM254 23h1v3h-1zM254 201h1v3h-1zM312 23h1v5h-1zM312 200h1v4h-1zM370 23h1v3h-1zM370 201h1v3h-1zM428 23h1v3h-1zM428 201h1v3h-1zM486 23h1v3h-1zM486 201h1v3h-1zM544 23h1v5h-1zM544 200h1v4h-1zM602 23h1v3h-1zM602 201h1v3h-1zM660 23h1v3h-1zM660 201h1v3h-1zM718 23h1v3h-1zM718 201h1v3h-1zM80 41h15v1h-15zM762 41h15v1h-15zM80 77h15v1h-15zM762 77h15v1h-15zM80 113h15v1h-15zM762 113h15v1h-15zM80 149h15v1h-15zM762 149h15v1h-15zM80 185h15v1h-15zM762 185h15v1h-15zM80 59h8v1h-8zM769 59h8v1h-8zM80 95h8v1h-8zM769 95h8v1h-8zM80 131h8v1h-8zM769 131h8v1h-8zM80 167h8v1h-8zM769 167h8v1h-8zM80 239h697v1h-697zM80 419h697v1h-697zM80 239h1v181h-1zM776 239h1v181h-1zM138 239h1v3h-1zM138 417h1v3h-1zM196 239h1v3h-1zM196 417h1v3h-1zM254 239h1v3h-1zM254 417h1v3h-1zM312 239h1v5h-1zM312 416h1v4h-1zM370 239h1v3h-1zM370 417h1v3h-1zM428 239h1v3h-1zM428 417h1v3h-1zM486 239h1v3h-1zM486 417h1v3h-1zM544 239h1v5h-1zM544 416h1v4h-1zM602 239h1v3h-1zM602 417h1v3h-1zM660 239h1v3h-1zM660 417h1v3h-1zM718 239h1v3h-1zM718 417h1v3h-1zM80 272h15v1h-15zM762 272h15v1h-15zM80 304h15v1h-15zM762 304h15v1h-15zM80 337h15v1h-15zM762 337h15v1h-15zM80 370h15v1h-15zM762 370h15v1h-15zM80 403h15v1h-15zM762 403h15v1h-15zM80 255h8v1h-8zM769 255h8v1h-8zM80 288h8v1h-8zM769 288h8v1h-8zM80 321h8v1h-8zM769 321h8v1h-8zM80 354h8v1h-8zM769 354h8v1h-8zM80 386h8v1h-8zM769 386h8v1h-8zM80 455h697v1h-697zM80 635h697v1h-697zM80 455h1v181h-1zM776 455h1v181h-1zM138 455h1v3h-1zM138 633h1v3h-1zM196 455h1v3h-1zM196 633h1v3h-1zM254 455h1v3h-1zM254 633h1v3h-1zM312 455h1v5h-1zM312 632h1v4h-1zM370 455h1v3h-1zM370 633h1v3h-1zM428 455h1v3h-1zM428 633h1v3h-1zM486 455h1v3h-1zM486 633h1v3h-1zM544 455h1v5h-1zM544 632h1v4h-1zM602 455h1v3h-1zM602 633h1v3h-1zM660 455h1v3h-1zM660 633h1v3h-1zM718 455h1v3h-1zM718 633h1v3h-1zM80 481h15v1h-15zM762 481h15v1h-15zM80 506h15v1h-15zM762 506h15v1h-15zM80 532h15v1h-15zM762 532h15v1h-15zM80 558h15v1h-15zM762 558h15v1h-15zM80 584h15v1h-15zM762 584h15v1h-15zM80 609h15v1h-15zM762 609h15v1h-15zM80 671h697v1h-697zM80 851h697v1h-697zM80 671h1v181h-1zM776 671h1v181h-1zM138 671h1v3h-1zM138 849h1v3h-1zM196 671h1v3h-1zM196 849h1v3h-1zM254 671h1v3h-1zM254 849h1v3h-1zM312 671h1v5h-1zM312 848h1v4h-1zM370 671h1v3h-1zM370 849h1v3h-1zM428 671h1v3h-1zM428 849h1v3h-1zM486 671h1v3h-1zM486 849h1v3h-1zM544 671h1v5h-1zM544 848h1v4h-1zM602 671h1v3h-1zM602 849h1v3h-1zM660 671h1v3h-1zM660 849h1v3h-1zM718 671h1v3h-1zM718 849h1v3h-1zM80 693h15v1h-15zM762 693h15v1h-15zM80 738h15v1h-15zM762 738h15v1h-15zM80 783h15v1h-15zM762 783h15v1h-15zM80 828h15v1h-15zM762 828h15v1h-15zM80 716h8v1h-8zM769 716h8v1h-8zM80 761h8v1h-8zM769 761h8v1h-8zM80 806h8v1h-8zM769 806h8v1h-8z"/>
</g>
<g>
<text><tspan x="79.9 88.2 92.6 101.1 109.6 119.2 125.1 129.8 139.2 144.9 153.2 157.6 166.1 174.6 184.2 188.8 199.7 206.6 216.5 221.0 230.1 233.3 241.2 249.2 253.8 259.4 267.5 275.6" y="18">0.035 to 0.065 MeV Electrons</tspan></text>
<text fill="#0000ff"><tspan x="327.9 336.2 340.6 350.2 356.1 360.8 370.2 375.9 384.2 388.6 398.2 402.8 413.7 421.3 429.7 434.1 443.2 446.4 454.4 462.3 467.0 472.6 480.6 488.8" y="18">0.7 to 4.0 Mev Electrons</tspan></text>
<text><tspan x="79.9 88.2 92.4 101.2" y="234">0.14</tspan><tspan x="109.6" y="234" textLength="10.4" lengthAdjust="spacingAndGlyphs">-</tspan><tspan x="120.7 129.0 133.4 141.9 151.5 156.1 167.0 173.9 183.8 188.8" y="234">0.62 MeV H</tspan></text>
<text fill="#0000ff"><tspan x="223.4 231.7 236.1 244.6" y="234">0.62</tspan><tspan x="253.1" y="234" textLength="10.4" lengthAdjust="spacingAndGlyphs">-</tspan><tspan x="264.2 272.5 276.9 285.4 295.0 299.6 310.5 317.4 327.3 332.3" y="234">2.22 MeV H</tspan></text>
<text fill="#c46c4c"><tspan x="367.4 375.7 380.1" y="234">2.2</tspan><tspan x="388.6" y="234" textLength="10.4" lengthAdjust="spacingAndGlyphs">-</tspan><tspan x="399.5 408.2 417.8 422.4 433.2 440.1 450.1 455.0" y="234">12 MeV H</tspan></text>
<text fill="#ff0000"><tspan x="488.2 496.9" y="234">13</tspan><tspan x="505.3" y="234" textLength="10.4" lengthAdjust="spacingAndGlyphs">-</tspan><tspan x="516.2 524.9 533.4 543.0 547.6 558.5 565.4 575.3 580.3" y="234">100 MeV H</tspan></text>
<text><tspan x="79.9 88.2 92.4 101.1" y="450">0.12</tspan><tspan x="109.6" y="450" textLength="10.4" lengthAdjust="spacingAndGlyphs">-</tspan><tspan x="120.5 129.0 133.4 141.9 151.5 156.1 167.0 173.9 185.1 191.8 201.2 206.2 215.9" y="450">1.08 MeV/n He</tspan></text>
<text fill="#0000ff"><tspan x="248.4 256.7 260.9 269.6" y="450">0.12</tspan><tspan x="278.1" y="450" textLength="10.4" lengthAdjust="spacingAndGlyphs">-</tspan><tspan x="289.0 297.5 301.9 310.4 320.0 324.6 335.5 342.4 353.6 360.3 369.7 374.4 383.6 392.6" y="450">1.08 MeV/n CNO</tspan></text>
<text fill="#ff0000"><tspan x="423.9 432.2 436.4 445.1" y="450">0.12</tspan><tspan x="453.6" y="450" textLength="10.4" lengthAdjust="spacingAndGlyphs">-</tspan><tspan x="464.5 473.0 477.4 485.9 495.5 500.1 511.0 517.9 527.8 532.4 540.7" y="450">1.08 MeV Fe</tspan></text>
<text><tspan x="79.9 89.5 95.3 100.0 109.4 114.9 123.6 133.2 137.8 148.7 155.6 166.8 173.6 183.0 187.9 197.6" y="666">4 to 12 MeV/n He</tspan></text>
<text fill="#0000ff"><tspan x="231.9 241.5 247.3 252.0 261.4 266.9 275.6 285.2 289.8 300.7 307.6 318.8 325.6 335.0 339.6 348.8 357.8" y="666">4 to 12 MeV/n CNO</tspan></text>
<text fill="#ff0000"><tspan x="392.4 402.0 407.8 412.5 421.9 427.4 436.1 445.7 450.3 461.2 468.1 478.0 482.6 491.0" y="666">4 to 12 MeV Fe</tspan></text>
<text><tspan x="54.4 62.9" y="870">05</tspan><tspan x="71.3" y="870" textLength="10.4" lengthAdjust="spacingAndGlyphs">-</tspan><tspan x="81.2 89.9 98.1" y="870">Aug</tspan></text>
<text><tspan x="285.9 294.3" y="870">06</tspan><tspan x="302.8" y="870" textLength="10.4" lengthAdjust="spacingAndGlyphs">-</tspan><tspan x="312.7 321.4 329.6" y="870">Aug</tspan></text>
<text><tspan x="517.9 526.4" y="870">07</tspan><tspan x="534.8" y="870" textLength="10.4" lengthAdjust="spacingAndGlyphs">-</tspan><tspan x="544.7 553.4 561.6" y="870">Aug</tspan></text>
<text><tspan x="750.4 758.9" y="870">08</tspan><tspan x="767.3" y="870" textLength="10.4" lengthAdjust="spacingAndGlyphs">-</tspan><tspan x="777.2 785.9 794.1" y="870">Aug</tspan></text>
<text><tspan x="79.6 87.6 94.4 102.5 111.4 119.6 131.2 135.7 144.3 152.2 159.7 168.3" y="886">STEREO Ahead</tspan></text>
<text><tspan x="292.6 302.0 306.4 314.8 320.7 325.5 331.0 337.8 343.5" y="886">Start:  5</tspan><tspan x="352.0" y="886" textLength="10.4" lengthAdjust="spacingAndGlyphs">-</tspan><tspan x="361.9 370.5 378.7" y="886">Aug</tspan><tspan x="386.8" y="886" textLength="10.4" lengthAdjust="spacingAndGlyphs">-</tspan><tspan x="397.9 406.4 414.9 423.4 433.0 438.7 447.2 455.5 460.0 468.5 478.1 483.0 491.9 498.9" y="886">2025 00:00 UTC</tspan></text>
<text><tspan x="53.8 62.5" y="47">10</tspan><tspan x="70.7" y="40" font-size="9">6</tspan></text>
<text><tspan x="53.8 62.5" y="83">10</tspan><tspan x="70.8" y="76" font-size="9">4</tspan></text>
<text><tspan x="53.8 62.5" y="119">10</tspan><tspan x="70.8" y="112" font-size="9">2</tspan></text>
<text><tspan x="53.8 62.5" y="155">10</tspan><tspan x="70.8" y="148" font-size="9">0</tspan></text>
<text><tspan x="46.9 55.6" y="191">10</tspan><tspan x="64.6 70.8" y="184" font-size="9">&#8722;2</tspan></text>
<text><tspan x="53.8 62.5" y="249">10</tspan><tspan x="70.7" y="242" font-size="9">6</tspan></text>
<text><tspan x="53.8 62.5" y="278">10</tspan><tspan x="70.8" y="271" font-size="9">4</tspan></text>
<text><tspan x="53.8 62.5" y="310">10</tspan><tspan x="70.8" y="303" font-size="9">2</tspan></text>
<text><tspan x="53.8 62.5" y="343">10</tspan><tspan x="70.8" y="336" font-size="9">0</tspan></text>
<text><tspan x="46.9 55.6" y="376">10</tspan><tspan x="64.6 70.8" y="369" font-size="9">&#8722;2</tspan></text>
<text><tspan x="46.9 55.6" y="409">10</tspan><tspan x="64.6 70.8" y="402" font-size="9">&#8722;4</tspan></text>
<text><tspan x="53.8 62.5" y="465">10</tspan><tspan x="70.8" y="458" font-size="9">4</tspan></text>
<text><tspan x="53.8 62.5" y="487">10</tspan><tspan x="70.8" y="480" font-size="9">3</tspan></text>
<text><tspan x="53.8 62.5" y="512">10</tspan><tspan x="70.8" y="505" font-size="9">2</tspan></text>
<text><tspan x="53.8 62.5" y="538">10</tspan><tspan x="70.6" y="531" font-size="9">1</tspan></text>
<text><tspan x="53.8 62.5" y="564">10</tspan><tspan x="70.8" y="557" font-size="9">0</tspan></text>
<text><tspan x="46.9 55.6" y="590">10</tspan><tspan x="64.6 70.6" y="583" font-size="9">&#8722;1</tspan></text>
<text><tspan x="46.9 55.6" y="615">10</tspan><tspan x="64.6 70.8" y="608" font-size="9">&#8722;2</tspan></text>
<text><tspan x="46.9 55.6" y="636">10</tspan><tspan x="64.6 70.8" y="629" font-size="9">&#8722;3</tspan></text>
<text><tspan x="53.8 62.5" y="699">10</tspan><tspan x="70.8" y="692" font-size="9">2</tspan></text>
<text><tspan x="53.8 62.5" y="744">10</tspan><tspan x="70.8" y="737" font-size="9">0</tspan></text>
<text><tspan x="46.9 55.6" y="789">10</tspan><tspan x="64.6 70.8" y="782" font-size="9">&#8722;2</tspan></text>
<text><tspan x="46.9 55.6" y="834">10</tspan><tspan x="64.6 70.8" y="827" font-size="9">&#8722;4</tspan></text>
<text transform="translate(36 174.1) rotate(-90)"><tspan x="0.2 11.2 18.1 24.0 32.0" y="0">1/(cm</tspan><tspan x="44.3" y="-7" font-size="9">2</tspan><tspan x="50.9 56.4 65.0 70.5 77.6 84.5 89.1 100.0 106.9 116.4" y="0"> s sr MeV)</tspan></text>
<text transform="translate(36 390.1) rotate(-90)"><tspan x="0.2 11.2 18.1 24.0 32.0" y="0">1/(cm</tspan><tspan x="44.3" y="-7" font-size="9">2</tspan><tspan x="50.9 56.4 65.0 70.5 77.6 84.5 89.1 100.0 106.9 116.4" y="0"> s sr MeV)</tspan></text>
<text transform="translate(36 624.8) rotate(-90)"><tspan x="0.2 11.2 18.1 24.0 32.0" y="0">1/(cm</tspan><tspan x="44.3" y="-7" font-size="9">2</tspan><tspan x="50.9 56.4 65.0 70.5 77.6 84.5 89.1 100.0 106.9 118.1 124.8 132.9 141.1 148.7 153.8" y="0"> s sr MeV/nuc.)</tspan></text>
<text transform="translate(36 840.8) rotate(-90)"><tspan x="0.2 11.2 18.1 24.0 32.0" y="0">1/(cm</tspan><tspan x="44.3" y="-7" font-size="9">2</tspan><tspan x="50.9 56.4 65.0 70.5 77.6 84.5 89.1 100.0 106.9 118.1 124.8 132.9 141.1 148.7 153.8" y="0"> s sr MeV/nuc.)</tspan></text>
</g>
</svg></body></html>
